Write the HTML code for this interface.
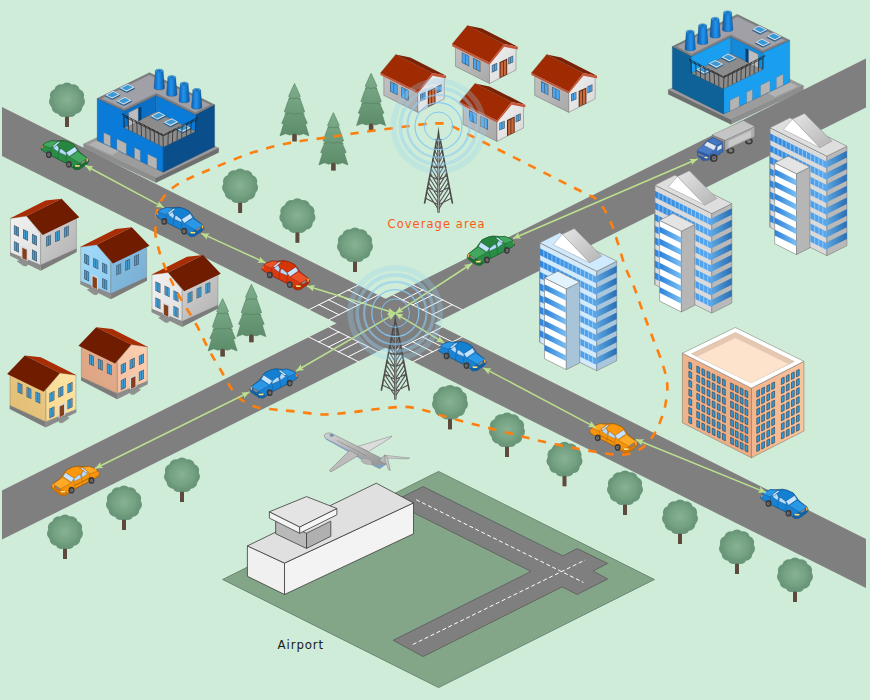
<!DOCTYPE html>
<html lang="en"><head><meta charset="utf-8"><title>Vehicular network</title>
<style>html,body{margin:0;padding:0;background:#ceecd7;}svg{display:block}</style></head>
<body><svg width="870" height="700" viewBox="0 0 870 700"><defs><linearGradient id="shL" x1="0" y1="0" x2="1" y2="1"><stop offset="0" stop-color="#c2c2c2"/><stop offset="1" stop-color="#a9a9a9"/></linearGradient><linearGradient id="shR" x1="0" y1="0" x2="1" y2="1"><stop offset="0" stop-color="#f2f2f2"/><stop offset="1" stop-color="#d6d6d6"/></linearGradient><g id="shouse"><polygon points="225,55 370,85 728,268 590,240" fill="#7a2208"/><polygon points="105,265 445,435 445,635 105,465" fill="url(#shL)" stroke="#5a5a5a" stroke-width="4" stroke-linejoin="round"/><polygon points="445,435 590,255 710,285 710,500 445,635" fill="url(#shR)" stroke="#5a5a5a" stroke-width="4" stroke-linejoin="round"/><polygon points="72,240 225,55 590,240 445,425" fill="#a02a02" stroke="#7a2208" stroke-width="3" stroke-linejoin="round"/><polygon points="72,240 445,425 445,447 72,262" fill="#c4583c"/><polygon points="445,425 590,240 728,268 728,294 592,268 445,447" fill="#c8553a"/><polygon points="168,322 242,359 242,464 168,427" fill="#4a5560"/><polygon points="174,331 202,345 202,438 174,424" fill="#4aa6f0"/><polygon points="208,348 236,362 236,455 208,441" fill="#4aa6f0"/><polygon points="280,378 354,415 354,520 280,483" fill="#4a5560"/><polygon points="286,387 314,401 314,494 286,480" fill="#4aa6f0"/><polygon points="320,404 348,418 348,511 320,497" fill="#4aa6f0"/><polygon points="468,452 522,427.7 522,502.7 468,527" fill="#4a5560"/><polygon points="474,455.3 492,447.2 492,510.2 474,518.3" fill="#4aa6f0"/><polygon points="498,444.5 516,436.4 516,499.4 498,507.5" fill="#4aa6f0"/><polygon points="632,377 682,354.5 682,422.5 632,445" fill="#4a5560"/><polygon points="638,380.3 654,373.1 654,429.1 638,436.3" fill="#4aa6f0"/><polygon points="660,370.4 676,363.2 676,419.2 660,426.4" fill="#4aa6f0"/><polygon points="545,422 622,385 622,545 545,582" fill="#5a2a10"/><polygon points="556,428 580,417 580,560 556,571" fill="#c8683e"/><polygon points="588,412 612,401 612,545 588,556" fill="#c8683e"/></g><radialGradient id="trg" cx="0.5" cy="0.5" r="0.55"><stop offset="0" stop-color="#88b294"/><stop offset="0.7" stop-color="#74a282"/><stop offset="1" stop-color="#6b9879"/></radialGradient><linearGradient id="png" x1="0" y1="0" x2="0" y2="1"><stop offset="0" stop-color="#7eae8c"/><stop offset="1" stop-color="#5c8c6a"/></linearGradient><g id="rtree"><rect x="-2" y="14" width="4" height="13" fill="#5e4a3c"/><circle cx="0.0" cy="-10.9" r="6.6" fill="#68957a"/><circle cx="6.2" cy="-9.2" r="6.6" fill="#68957a"/><circle cx="10.5" cy="-4.5" r="6.6" fill="#68957a"/><circle cx="11.4" cy="1.6" r="6.6" fill="#68957a"/><circle cx="8.7" cy="7.2" r="6.6" fill="#68957a"/><circle cx="3.2" cy="10.5" r="6.6" fill="#68957a"/><circle cx="-3.2" cy="10.5" r="6.6" fill="#68957a"/><circle cx="-8.7" cy="7.2" r="6.6" fill="#68957a"/><circle cx="-11.4" cy="1.6" r="6.6" fill="#68957a"/><circle cx="-10.5" cy="-4.5" r="6.6" fill="#68957a"/><circle cx="-6.2" cy="-9.2" r="6.6" fill="#68957a"/><ellipse cx="0" cy="0" rx="16.3" ry="15.6" fill="#6b9879"/><ellipse cx="0" cy="-0.5" rx="14" ry="13.5" fill="url(#trg)"/></g><g id="pine"><rect x="-2.3" y="49" width="4.6" height="9" fill="#5e4a3c"/><polygon points="0,0 2.6,5.5 5.9,13 4.8,13.6 7.5,20.5 10.2,28.4 8.2,29.2 12.8,39.8 10.9,40.6 14.5,52.3 9,50.2 4.5,51.6 0,50 -4.5,51.6 -9,50.2 -14.5,52.3 -10.9,40.6 -12.8,39.8 -8.2,29.2 -10.2,28.4 -7.5,20.5 -4.8,13.6 -5.9,13 -2.6,5.5" fill="url(#png)" stroke="#557f62" stroke-width="0.6" stroke-linejoin="round"/><path d="M-6,15.5 q3,-2 6,-0.3 q3,-1.7 6,0.3 M-10,31 q5,-2.6 10,-0.5 q5,-2.1 10,0.5" stroke="#5a8a68" stroke-width="1" fill="none"/></g><g id="ant"><path d="M-3.1,21.0L0,22.6L3.1,21.0M-4.8,29.5L0,31.9L4.8,29.5M-6.6,39.0L0,42.3L6.6,39.0M-8.6,49.5L0,53.8L8.6,49.5M-10.8,61.0L0,66.4L10.8,61.0M-12.9,72.0L0,78.5L12.9,72.0M-2.0,15.0L0,20.5L2.0,15.0M-2.9,19.6L0,26.2L2.9,19.6M-3.8,24.2L0,31.9L3.8,24.2M-4.6,28.8L0,37.6L4.6,28.8M-5.5,33.4L0,43.3L5.5,33.4M-6.4,38.0L0,49.0L6.4,38.0M-7.3,42.6L0,54.7L7.3,42.6M-8.2,47.2L0,60.4L8.2,47.2M-9.1,51.8L0,66.1L9.1,51.8M-9.9,56.4L0,71.8L9.9,56.4M-10.8,61.0L0,77.5L10.8,61.0M-11.7,65.6L0,83.2L11.7,65.6" stroke="#545454" stroke-width="1.12" fill="none" stroke-linejoin="round"/><path d="M-1.7,13.5L-14,77.5M1.7,13.5L14,77.5" stroke="#4a4a4a" stroke-width="1.6" fill="none"/><path d="M-3.2,13.3L3.2,13.3" stroke="#444" stroke-width="1.3" fill="none"/><polygon points="0,0 1.6,13.5 -1.6,13.5" fill="#4a4a4a"/><path d="M0,13.5L0,86.5" stroke="#505050" stroke-width="2.4" fill="none"/><path d="M0,12L0,86" stroke="#a4a4a4" stroke-width=".9" fill="none"/></g></defs><rect width="870" height="700" fill="#ceecd7"/><polygon points="2,107 866,539 866,588 2,156" fill="#7f7f7f"/><polygon points="2,490.6 866,58.6 866,107.6 2,539.6" fill="#7f7f7f"/><path d="M329.1,319.6L378.1,295.1M309.1,309.6L358.1,285.1M338.9,314.7L318.9,304.7M348.7,309.8L328.7,299.8M358.5,304.9L338.5,294.9M368.3,299.9L348.3,289.9M329.1,327.1L378.1,351.6M309.1,337.1L358.1,361.6M338.9,331.9L318.9,341.9M348.7,336.9L328.7,346.9M358.5,341.8L338.5,351.8M368.3,346.7L348.3,356.7M393.1,351.6L442.1,327.1M413.1,361.6L462.1,337.1M402.9,346.7L422.9,356.7M412.7,341.8L432.7,351.8M422.5,336.9L442.5,346.9M432.3,331.9L452.3,341.9M393.1,295.1L442.1,319.6M413.1,285.1L462.1,309.6M402.9,299.9L422.9,289.9M412.7,304.9L432.7,294.9M422.5,309.8L442.5,299.8M432.3,314.7L452.3,304.7" stroke="#ffffff" stroke-width="1" fill="none" stroke-linecap="square"/><polygon points="222.6,579.5 438.6,471.4 654.4,579.5 438.6,687.6" fill="#83a688" stroke="#5f7a64" stroke-width="0.8" stroke-linejoin="round"/><polygon points="423.1,486.6 562.8,555.9 577.2,548.6 607.6,563.4 593.1,571 607.6,579 577.2,594.5 562.1,586.9 423.1,656.6 393.1,640.3 531,571.4 392.2,502" fill="#7f7f7f" stroke="#5a5a5a" stroke-width="0.8" stroke-linejoin="round"/><path d="M416.2,499.7L583.4,582.4M412.8,644.5L585.2,560" stroke="#fff" stroke-width="1" stroke-dasharray="4 2.6" fill="none"/><polygon points="247.4,545.9 284.5,563.1 284.5,594.5 247.4,576.3" fill="#f0f0f0" stroke="#3c3c3c" stroke-width="0.8" stroke-linejoin="round"/><polygon points="284.5,563.1 413.5,502.9 413.5,533.8 284.5,594.5" fill="#f3f3f3" stroke="#3c3c3c" stroke-width="0.8" stroke-linejoin="round"/><polygon points="247.4,545.9 376.3,483.2 413.5,502.9 284.5,563.1" fill="#e0e0e0" stroke="#3c3c3c" stroke-width="0.8" stroke-linejoin="round"/><polygon points="275.683,519.362 306.53,533.268 306.53,548.439 275.683,533.774" fill="#b9b9b9" stroke="#3c3c3c" stroke-width="0.8" stroke-linejoin="round"/><polygon points="306.53,533.268 330.803,521.131 330.803,536.302 306.53,548.439" fill="#b0b0b0" stroke="#3c3c3c" stroke-width="0.8" stroke-linejoin="round"/><polygon points="269.362,511.776 299.703,526.947 299.703,533.268 269.362,518.097" fill="#f4f4f4" stroke="#3c3c3c" stroke-width="0.8" stroke-linejoin="round"/><polygon points="299.703,526.947 336.871,508.489 336.871,514.81 299.703,533.268" fill="#f6f6f6" stroke="#3c3c3c" stroke-width="0.8" stroke-linejoin="round"/><polygon points="269.362,511.776 306.53,496.606 336.871,508.489 299.703,526.947" fill="#e4e4e4" stroke="#3c3c3c" stroke-width="0.8" stroke-linejoin="round"/><g transform="translate(791.9,1.73) scale(-0.149477,0.149477)"><polygon points="-76.266,561.96 408.09,789.42 408.09,819.42 -76.266,591.96" fill="#8e8e8e" stroke="#6a6a6a" stroke-width="2" stroke-linejoin="round"/><polygon points="408.09,789.42 826.884,588.72 826.884,618.72 408.09,819.42" fill="#6e6e6e" stroke="#5a5a5a" stroke-width="2" stroke-linejoin="round"/><polygon points="-76.266,561.96 342.528,361.26 826.884,588.72 408.09,789.42" fill="#9c9c9c" stroke="#6a6a6a" stroke-width="2" stroke-linejoin="round"/><polygon points="-46.83,565.305 33.45,528.51 180.63,602.1 113.73,638.895" fill="#b2b2b2" stroke="#8a8a8a" stroke-width="1.5" stroke-linejoin="round"/><polygon points="15,258 195,340 195,452 457,582 457,751 15,539" fill="#1a9ff0" stroke="#0a3a6a" stroke-width="2" stroke-linejoin="round"/><polygon points="457,582 672,477 672,365 800,300 800,581 457,751" fill="#0e6298" stroke="#0a3a6a" stroke-width="2" stroke-linejoin="round"/><polygon points="195,452 410,347 672,477 457,582" fill="#8c8c8c" stroke="#5a5a5a" stroke-width="2" stroke-linejoin="round"/><polygon points="195,340 410,235 410,347 195,452" fill="#168ada" stroke="#0a3a6a" stroke-width="2" stroke-linejoin="round"/><polygon points="410,235 672,365 672,477 410,347" fill="#1a9ff0" stroke="#0a3a6a" stroke-width="2" stroke-linejoin="round"/><polygon points="225,352 290,320 290,412 225,444" fill="#bdbdbd" stroke="#555" stroke-width="2" stroke-linejoin="round"/><polygon points="292,320 310,312 310,400 292,410" fill="#063d70"/><polygon points="15,258 365,85 800,300 672,365 410,235 195,340" fill="#808084" stroke="#4a4a4a" stroke-width="2.5" stroke-linejoin="round"/><polygon points="45,258 365,100 770,300 672,350 410,220 195,325" fill="#a0a0a6"/><polygon points="58,484.208 104,506.748 104,579.748 58,557.208" fill="#b4b4b4" stroke="#3a5a7a" stroke-width="1.5" stroke-linejoin="round"/><polygon points="146,527.609 210,558.969 210,631.969 146,600.609" fill="#b4b4b4" stroke="#3a5a7a" stroke-width="1.5" stroke-linejoin="round"/><polygon points="264,585.807 303,604.917 303,677.917 264,658.807" fill="#b4b4b4" stroke="#3a5a7a" stroke-width="1.5" stroke-linejoin="round"/><polygon points="352,629.208 414,659.588 414,732.588 352,702.208" fill="#b4b4b4" stroke="#3a5a7a" stroke-width="1.5" stroke-linejoin="round"/><polygon points="165,187 212,211 212,221 165,197" fill="#2a6a9e"/><polygon points="212,211 265,184 265,194 212,221" fill="#1e5a8a"/><polygon points="165,187 220,159 265,184 212,211" fill="#e8eef4" stroke="#6a7a8a" stroke-width="1.5" stroke-linejoin="round"/><polygon points="177,187 220,166 253,183 211,204" fill="#3a9ad8"/><polygon points="68,234 115,258 115,268 68,244" fill="#2a6a9e"/><polygon points="115,258 168,231 168,241 115,268" fill="#1e5a8a"/><polygon points="68,234 123,206 168,231 115,258" fill="#e8eef4" stroke="#6a7a8a" stroke-width="1.5" stroke-linejoin="round"/><polygon points="80,234 123,213 156,230 114,251" fill="#3a9ad8"/><polygon points="145,274 192,298 192,308 145,284" fill="#2a6a9e"/><polygon points="192,298 245,271 245,281 192,308" fill="#1e5a8a"/><polygon points="145,274 200,246 245,271 192,298" fill="#e8eef4" stroke="#6a7a8a" stroke-width="1.5" stroke-linejoin="round"/><polygon points="157,274 200,253 233,270 191,291" fill="#3a9ad8"/><polygon points="540,457 587,481 587,491 540,467" fill="#2a6a9e"/><polygon points="587,481 640,454 640,464 587,491" fill="#1e5a8a"/><polygon points="540,457 595,429 640,454 587,481" fill="#e8eef4" stroke="#6a7a8a" stroke-width="1.5" stroke-linejoin="round"/><polygon points="552,457 595,436 628,453 586,474" fill="#3a9ad8"/><polygon points="372,374 419,398 419,408 372,384" fill="#2a6a9e"/><polygon points="419,398 472,371 472,381 419,408" fill="#1e5a8a"/><polygon points="372,374 427,346 472,371 419,398" fill="#e8eef4" stroke="#6a7a8a" stroke-width="1.5" stroke-linejoin="round"/><polygon points="384,374 427,353 460,370 418,391" fill="#3a9ad8"/><polygon points="458,417 505,441 505,451 458,427" fill="#2a6a9e"/><polygon points="505,441 558,414 558,424 505,451" fill="#1e5a8a"/><polygon points="458,417 513,389 558,414 505,441" fill="#e8eef4" stroke="#6a7a8a" stroke-width="1.5" stroke-linejoin="round"/><polygon points="470,417 513,396 546,413 504,434" fill="#3a9ad8"/><linearGradient id="chf2" x1="0" y1="0" x2="1" y2="0"><stop offset="0" stop-color="#0b64b4"/><stop offset="0.45" stop-color="#2294ee"/><stop offset="1" stop-color="#0a58a2"/></linearGradient><path d="M404.0,72 L395.0,186 A35,14 0 0 0 465.0,186 L456.0,72 Z" fill="url(#chf2)" stroke="#0a3a6a" stroke-width="2"/><ellipse cx="430.0" cy="72" rx="26" ry="11.5" fill="#3ea4ee" stroke="#0a4a8a" stroke-width="2"/><ellipse cx="430.0" cy="73" rx="16" ry="6" fill="#1a6ab0"/><path d="M487.5,115 L478.5,229 A35,14 0 0 0 548.5,229 L539.5,115 Z" fill="url(#chf2)" stroke="#0a3a6a" stroke-width="2"/><ellipse cx="513.5" cy="115" rx="26" ry="11.5" fill="#3ea4ee" stroke="#0a4a8a" stroke-width="2"/><ellipse cx="513.5" cy="116" rx="16" ry="6" fill="#1a6ab0"/><path d="M571.0,158 L562.0,272 A35,14 0 0 0 632.0,272 L623.0,158 Z" fill="url(#chf2)" stroke="#0a3a6a" stroke-width="2"/><ellipse cx="597.0" cy="158" rx="26" ry="11.5" fill="#3ea4ee" stroke="#0a4a8a" stroke-width="2"/><ellipse cx="597.0" cy="159" rx="16" ry="6" fill="#1a6ab0"/><path d="M654.5,201 L645.5,315 A35,14 0 0 0 715.5,315 L706.5,201 Z" fill="url(#chf2)" stroke="#0a3a6a" stroke-width="2"/><ellipse cx="680.5" cy="201" rx="26" ry="11.5" fill="#3ea4ee" stroke="#0a4a8a" stroke-width="2"/><ellipse cx="680.5" cy="202" rx="16" ry="6" fill="#1a6ab0"/><path d="M195,452L193,378L181,360M224,466L222,392L210,374M253,481L251,407L239,389M282,495L280,421L268,403M311,510L309,436L297,418M341,524L339,450L327,432M370,539L368,465L356,447M399,553L397,479L385,461M428,568L426,494L414,476M457,582L455,508L443,490M488,567L490,493L502,475M518,552L520,478L532,460M549,537L551,463L563,445M580,522L582,448L594,430M611,507L613,433L625,415M641,492L643,418L655,400M672,477L674,403L686,385M193,378L457,508L674,403M181,360L457,502L686,385" stroke="#151515" stroke-width="4.2" fill="none"/></g><g transform="translate(95,60) scale(0.149477,0.149477)"><polygon points="-76.266,561.96 408.09,789.42 408.09,819.42 -76.266,591.96" fill="#8e8e8e" stroke="#6a6a6a" stroke-width="2" stroke-linejoin="round"/><polygon points="408.09,789.42 826.884,588.72 826.884,618.72 408.09,819.42" fill="#6e6e6e" stroke="#5a5a5a" stroke-width="2" stroke-linejoin="round"/><polygon points="-76.266,561.96 342.528,361.26 826.884,588.72 408.09,789.42" fill="#9c9c9c" stroke="#6a6a6a" stroke-width="2" stroke-linejoin="round"/><polygon points="-46.83,565.305 33.45,528.51 180.63,602.1 113.73,638.895" fill="#b2b2b2" stroke="#8a8a8a" stroke-width="1.5" stroke-linejoin="round"/><polygon points="15,258 195,340 195,452 457,582 457,751 15,539" fill="#0a7bd8" stroke="#0a3a6a" stroke-width="2" stroke-linejoin="round"/><polygon points="457,582 672,477 672,365 800,300 800,581 457,751" fill="#0a4f8c" stroke="#0a3a6a" stroke-width="2" stroke-linejoin="round"/><polygon points="195,452 410,347 672,477 457,582" fill="#8c8c8c" stroke="#5a5a5a" stroke-width="2" stroke-linejoin="round"/><polygon points="195,340 410,235 410,347 195,452" fill="#0a6fc6" stroke="#0a3a6a" stroke-width="2" stroke-linejoin="round"/><polygon points="410,235 672,365 672,477 410,347" fill="#0a7bd8" stroke="#0a3a6a" stroke-width="2" stroke-linejoin="round"/><polygon points="225,352 290,320 290,412 225,444" fill="#bdbdbd" stroke="#555" stroke-width="2" stroke-linejoin="round"/><polygon points="292,320 310,312 310,400 292,410" fill="#063d70"/><polygon points="15,258 365,85 800,300 672,365 410,235 195,340" fill="#808084" stroke="#4a4a4a" stroke-width="2.5" stroke-linejoin="round"/><polygon points="45,258 365,100 770,300 672,350 410,220 195,325" fill="#a0a0a6"/><polygon points="58,484.208 104,506.748 104,579.748 58,557.208" fill="#b4b4b4" stroke="#3a5a7a" stroke-width="1.5" stroke-linejoin="round"/><polygon points="146,527.609 210,558.969 210,631.969 146,600.609" fill="#b4b4b4" stroke="#3a5a7a" stroke-width="1.5" stroke-linejoin="round"/><polygon points="264,585.807 303,604.917 303,677.917 264,658.807" fill="#b4b4b4" stroke="#3a5a7a" stroke-width="1.5" stroke-linejoin="round"/><polygon points="352,629.208 414,659.588 414,732.588 352,702.208" fill="#b4b4b4" stroke="#3a5a7a" stroke-width="1.5" stroke-linejoin="round"/><polygon points="165,187 212,211 212,221 165,197" fill="#2a6a9e"/><polygon points="212,211 265,184 265,194 212,221" fill="#1e5a8a"/><polygon points="165,187 220,159 265,184 212,211" fill="#e8eef4" stroke="#6a7a8a" stroke-width="1.5" stroke-linejoin="round"/><polygon points="177,187 220,166 253,183 211,204" fill="#3a9ad8"/><polygon points="68,234 115,258 115,268 68,244" fill="#2a6a9e"/><polygon points="115,258 168,231 168,241 115,268" fill="#1e5a8a"/><polygon points="68,234 123,206 168,231 115,258" fill="#e8eef4" stroke="#6a7a8a" stroke-width="1.5" stroke-linejoin="round"/><polygon points="80,234 123,213 156,230 114,251" fill="#3a9ad8"/><polygon points="145,274 192,298 192,308 145,284" fill="#2a6a9e"/><polygon points="192,298 245,271 245,281 192,308" fill="#1e5a8a"/><polygon points="145,274 200,246 245,271 192,298" fill="#e8eef4" stroke="#6a7a8a" stroke-width="1.5" stroke-linejoin="round"/><polygon points="157,274 200,253 233,270 191,291" fill="#3a9ad8"/><polygon points="540,457 587,481 587,491 540,467" fill="#2a6a9e"/><polygon points="587,481 640,454 640,464 587,491" fill="#1e5a8a"/><polygon points="540,457 595,429 640,454 587,481" fill="#e8eef4" stroke="#6a7a8a" stroke-width="1.5" stroke-linejoin="round"/><polygon points="552,457 595,436 628,453 586,474" fill="#3a9ad8"/><polygon points="372,374 419,398 419,408 372,384" fill="#2a6a9e"/><polygon points="419,398 472,371 472,381 419,408" fill="#1e5a8a"/><polygon points="372,374 427,346 472,371 419,398" fill="#e8eef4" stroke="#6a7a8a" stroke-width="1.5" stroke-linejoin="round"/><polygon points="384,374 427,353 460,370 418,391" fill="#3a9ad8"/><polygon points="458,417 505,441 505,451 458,427" fill="#2a6a9e"/><polygon points="505,441 558,414 558,424 505,451" fill="#1e5a8a"/><polygon points="458,417 513,389 558,414 505,441" fill="#e8eef4" stroke="#6a7a8a" stroke-width="1.5" stroke-linejoin="round"/><polygon points="470,417 513,396 546,413 504,434" fill="#3a9ad8"/><linearGradient id="chf1" x1="0" y1="0" x2="1" y2="0"><stop offset="0" stop-color="#0b64b4"/><stop offset="0.45" stop-color="#2294ee"/><stop offset="1" stop-color="#0a58a2"/></linearGradient><path d="M404.0,72 L395.0,186 A35,14 0 0 0 465.0,186 L456.0,72 Z" fill="url(#chf1)" stroke="#0a3a6a" stroke-width="2"/><ellipse cx="430.0" cy="72" rx="26" ry="11.5" fill="#3ea4ee" stroke="#0a4a8a" stroke-width="2"/><ellipse cx="430.0" cy="73" rx="16" ry="6" fill="#1a6ab0"/><path d="M487.5,115 L478.5,229 A35,14 0 0 0 548.5,229 L539.5,115 Z" fill="url(#chf1)" stroke="#0a3a6a" stroke-width="2"/><ellipse cx="513.5" cy="115" rx="26" ry="11.5" fill="#3ea4ee" stroke="#0a4a8a" stroke-width="2"/><ellipse cx="513.5" cy="116" rx="16" ry="6" fill="#1a6ab0"/><path d="M571.0,158 L562.0,272 A35,14 0 0 0 632.0,272 L623.0,158 Z" fill="url(#chf1)" stroke="#0a3a6a" stroke-width="2"/><ellipse cx="597.0" cy="158" rx="26" ry="11.5" fill="#3ea4ee" stroke="#0a4a8a" stroke-width="2"/><ellipse cx="597.0" cy="159" rx="16" ry="6" fill="#1a6ab0"/><path d="M654.5,201 L645.5,315 A35,14 0 0 0 715.5,315 L706.5,201 Z" fill="url(#chf1)" stroke="#0a3a6a" stroke-width="2"/><ellipse cx="680.5" cy="201" rx="26" ry="11.5" fill="#3ea4ee" stroke="#0a4a8a" stroke-width="2"/><ellipse cx="680.5" cy="202" rx="16" ry="6" fill="#1a6ab0"/><path d="M195,452L193,378L181,360M224,466L222,392L210,374M253,481L251,407L239,389M282,495L280,421L268,403M311,510L309,436L297,418M341,524L339,450L327,432M370,539L368,465L356,447M399,553L397,479L385,461M428,568L426,494L414,476M457,582L455,508L443,490M488,567L490,493L502,475M518,552L520,478L532,460M549,537L551,463L563,445M580,522L582,448L594,430M611,507L613,433L625,415M641,492L643,418L655,400M672,477L674,403L686,385M193,378L457,508L674,403M181,360L457,502L686,385" stroke="#151515" stroke-width="4.2" fill="none"/></g><use href="#shouse" transform="translate(445,20) scale(0.1)"/><use href="#shouse" transform="translate(373.3,48.9) scale(0.1)"/><use href="#shouse" transform="translate(524.2,48.9) scale(0.1)"/><use href="#shouse" transform="translate(452.5,77.9) scale(0.1)"/><g transform="translate(5,194.971) scale(0.114286,0.114286)"><linearGradient id="gh1a" x1="0" y1="0" x2="1" y2="1"><stop offset="0" stop-color="#f2f2f2"/><stop offset="1" stop-color="#dedede"/></linearGradient><linearGradient id="gh1b" x1="0" y1="0" x2="1" y2="1"><stop offset="0" stop-color="#d2d2d2"/><stop offset="1" stop-color="#b2b2b2"/></linearGradient><polygon points="44,500 312,612 312,662 44,532" fill="#8c8c8c"/><polygon points="312,612 628,468 628,500 312,662" fill="#7c7c7c"/><polygon points="48,205 188,186 312,335 312,612 48,505" fill="url(#gh1a)" stroke="#666" stroke-width="3" stroke-linejoin="round"/><polygon points="312,340 625,200 625,470 312,612" fill="url(#gh1b)" stroke="#666" stroke-width="3" stroke-linejoin="round"/><polygon points="42,205 355,48 495,32 188,185" fill="#a82c04"/><polygon points="188,185 495,32 650,195 330,350" fill="#701c00"/><polygon points="78,262 122,284 122,366 78,344" fill="#4a5560"/><polygon points="83,269.5 97.5,276.75 97.5,348.75 83,341.5" fill="#3f9ed6"/><polygon points="102.5,279.25 117,286.5 117,358.5 102.5,351.25" fill="#3f9ed6"/><polygon points="158,298 202,320 202,402 158,380" fill="#4a5560"/><polygon points="163,305.5 177.5,312.75 177.5,384.75 163,377.5" fill="#3f9ed6"/><polygon points="182.5,315.25 197,322.5 197,394.5 182.5,387.25" fill="#3f9ed6"/><polygon points="236,340 280,362 280,444 236,422" fill="#4a5560"/><polygon points="241,347.5 255.5,354.75 255.5,426.75 241,419.5" fill="#3f9ed6"/><polygon points="260.5,357.25 275,364.5 275,436.5 260.5,429.25" fill="#3f9ed6"/><polygon points="78,402 122,424 122,506 78,484" fill="#4a5560"/><polygon points="83,409.5 97.5,416.75 97.5,488.75 83,481.5" fill="#3f9ed6"/><polygon points="102.5,419.25 117,426.5 117,498.5 102.5,491.25" fill="#3f9ed6"/><polygon points="236,476 280,498 280,584 236,562" fill="#4a5560"/><polygon points="241,483.5 255.5,490.75 255.5,566.75 241,559.5" fill="#3f9ed6"/><polygon points="260.5,493.25 275,500.5 275,576.5 260.5,569.25" fill="#3f9ed6"/><polygon points="360,366 402,347.1 402,435.1 360,454" fill="#4a5560"/><polygon points="365,368.75 378.5,362.675 378.5,440.675 365,446.75" fill="#3f9ed6"/><polygon points="383.5,360.425 397,354.35 397,432.35 383.5,438.425" fill="#3f9ed6"/><polygon points="438,326 480,307.1 480,395.1 438,414" fill="#4a5560"/><polygon points="443,328.75 456.5,322.675 456.5,400.675 443,406.75" fill="#3f9ed6"/><polygon points="461.5,320.425 475,314.35 475,392.35 461.5,398.425" fill="#3f9ed6"/><polygon points="516,286 558,267.1 558,355.1 516,374" fill="#4a5560"/><polygon points="521,288.75 534.5,282.675 534.5,360.675 521,366.75" fill="#3f9ed6"/><polygon points="539.5,280.425 553,274.35 553,352.35 539.5,358.425" fill="#3f9ed6"/><polygon points="143,445 200,470 200,580 143,555" fill="#d8d8d8"/><polygon points="152,462 190,479 190,572 152,554" fill="#84401e"/><polygon points="105,580 150,562 212,590 190,622 165,622" fill="#909090" stroke="#6a6a6a" stroke-width="2" stroke-linejoin="round"/></g><g transform="translate(75.2,223.571) scale(0.114286,0.114286)"><linearGradient id="gh2a" x1="0" y1="0" x2="1" y2="1"><stop offset="0" stop-color="#a2dafa"/><stop offset="1" stop-color="#90ccf0"/></linearGradient><linearGradient id="gh2b" x1="0" y1="0" x2="1" y2="1"><stop offset="0" stop-color="#86bde0"/><stop offset="1" stop-color="#78aed2"/></linearGradient><polygon points="44,500 312,612 312,662 44,532" fill="#8c8c8c"/><polygon points="312,612 628,468 628,500 312,662" fill="#7c7c7c"/><polygon points="48,205 188,186 312,335 312,612 48,505" fill="url(#gh2a)" stroke="#666" stroke-width="3" stroke-linejoin="round"/><polygon points="312,340 625,200 625,470 312,612" fill="url(#gh2b)" stroke="#666" stroke-width="3" stroke-linejoin="round"/><polygon points="42,205 355,48 495,32 188,185" fill="#a82c04"/><polygon points="188,185 495,32 650,195 330,350" fill="#701c00"/><polygon points="78,262 122,284 122,366 78,344" fill="#4a5560"/><polygon points="83,269.5 97.5,276.75 97.5,348.75 83,341.5" fill="#3f9ed6"/><polygon points="102.5,279.25 117,286.5 117,358.5 102.5,351.25" fill="#3f9ed6"/><polygon points="158,298 202,320 202,402 158,380" fill="#4a5560"/><polygon points="163,305.5 177.5,312.75 177.5,384.75 163,377.5" fill="#3f9ed6"/><polygon points="182.5,315.25 197,322.5 197,394.5 182.5,387.25" fill="#3f9ed6"/><polygon points="236,340 280,362 280,444 236,422" fill="#4a5560"/><polygon points="241,347.5 255.5,354.75 255.5,426.75 241,419.5" fill="#3f9ed6"/><polygon points="260.5,357.25 275,364.5 275,436.5 260.5,429.25" fill="#3f9ed6"/><polygon points="78,402 122,424 122,506 78,484" fill="#4a5560"/><polygon points="83,409.5 97.5,416.75 97.5,488.75 83,481.5" fill="#3f9ed6"/><polygon points="102.5,419.25 117,426.5 117,498.5 102.5,491.25" fill="#3f9ed6"/><polygon points="236,476 280,498 280,584 236,562" fill="#4a5560"/><polygon points="241,483.5 255.5,490.75 255.5,566.75 241,559.5" fill="#3f9ed6"/><polygon points="260.5,493.25 275,500.5 275,576.5 260.5,569.25" fill="#3f9ed6"/><polygon points="360,366 402,347.1 402,435.1 360,454" fill="#4a5560"/><polygon points="365,368.75 378.5,362.675 378.5,440.675 365,446.75" fill="#3f9ed6"/><polygon points="383.5,360.425 397,354.35 397,432.35 383.5,438.425" fill="#3f9ed6"/><polygon points="438,326 480,307.1 480,395.1 438,414" fill="#4a5560"/><polygon points="443,328.75 456.5,322.675 456.5,400.675 443,406.75" fill="#3f9ed6"/><polygon points="461.5,320.425 475,314.35 475,392.35 461.5,398.425" fill="#3f9ed6"/><polygon points="516,286 558,267.1 558,355.1 516,374" fill="#4a5560"/><polygon points="521,288.75 534.5,282.675 534.5,360.675 521,366.75" fill="#3f9ed6"/><polygon points="539.5,280.425 553,274.35 553,352.35 539.5,358.425" fill="#3f9ed6"/><polygon points="143,445 200,470 200,580 143,555" fill="#d8d8d8"/><polygon points="152,462 190,479 190,572 152,554" fill="#84401e"/><polygon points="105,580 150,562 212,590 190,622 165,622" fill="#909090" stroke="#6a6a6a" stroke-width="2" stroke-linejoin="round"/></g><g transform="translate(146.5,251.371) scale(0.114286,0.114286)"><linearGradient id="gh3a" x1="0" y1="0" x2="1" y2="1"><stop offset="0" stop-color="#f2f2f2"/><stop offset="1" stop-color="#dedede"/></linearGradient><linearGradient id="gh3b" x1="0" y1="0" x2="1" y2="1"><stop offset="0" stop-color="#d2d2d2"/><stop offset="1" stop-color="#b2b2b2"/></linearGradient><polygon points="44,500 312,612 312,662 44,532" fill="#8c8c8c"/><polygon points="312,612 628,468 628,500 312,662" fill="#7c7c7c"/><polygon points="48,205 188,186 312,335 312,612 48,505" fill="url(#gh3a)" stroke="#666" stroke-width="3" stroke-linejoin="round"/><polygon points="312,340 625,200 625,470 312,612" fill="url(#gh3b)" stroke="#666" stroke-width="3" stroke-linejoin="round"/><polygon points="42,205 355,48 495,32 188,185" fill="#a82c04"/><polygon points="188,185 495,32 650,195 330,350" fill="#701c00"/><polygon points="78,262 122,284 122,366 78,344" fill="#4a5560"/><polygon points="83,269.5 97.5,276.75 97.5,348.75 83,341.5" fill="#3f9ed6"/><polygon points="102.5,279.25 117,286.5 117,358.5 102.5,351.25" fill="#3f9ed6"/><polygon points="158,298 202,320 202,402 158,380" fill="#4a5560"/><polygon points="163,305.5 177.5,312.75 177.5,384.75 163,377.5" fill="#3f9ed6"/><polygon points="182.5,315.25 197,322.5 197,394.5 182.5,387.25" fill="#3f9ed6"/><polygon points="236,340 280,362 280,444 236,422" fill="#4a5560"/><polygon points="241,347.5 255.5,354.75 255.5,426.75 241,419.5" fill="#3f9ed6"/><polygon points="260.5,357.25 275,364.5 275,436.5 260.5,429.25" fill="#3f9ed6"/><polygon points="78,402 122,424 122,506 78,484" fill="#4a5560"/><polygon points="83,409.5 97.5,416.75 97.5,488.75 83,481.5" fill="#3f9ed6"/><polygon points="102.5,419.25 117,426.5 117,498.5 102.5,491.25" fill="#3f9ed6"/><polygon points="236,476 280,498 280,584 236,562" fill="#4a5560"/><polygon points="241,483.5 255.5,490.75 255.5,566.75 241,559.5" fill="#3f9ed6"/><polygon points="260.5,493.25 275,500.5 275,576.5 260.5,569.25" fill="#3f9ed6"/><polygon points="360,366 402,347.1 402,435.1 360,454" fill="#4a5560"/><polygon points="365,368.75 378.5,362.675 378.5,440.675 365,446.75" fill="#3f9ed6"/><polygon points="383.5,360.425 397,354.35 397,432.35 383.5,438.425" fill="#3f9ed6"/><polygon points="438,326 480,307.1 480,395.1 438,414" fill="#4a5560"/><polygon points="443,328.75 456.5,322.675 456.5,400.675 443,406.75" fill="#3f9ed6"/><polygon points="461.5,320.425 475,314.35 475,392.35 461.5,398.425" fill="#3f9ed6"/><polygon points="516,286 558,267.1 558,355.1 516,374" fill="#4a5560"/><polygon points="521,288.75 534.5,282.675 534.5,360.675 521,366.75" fill="#3f9ed6"/><polygon points="539.5,280.425 553,274.35 553,352.35 539.5,358.425" fill="#3f9ed6"/><polygon points="143,445 200,470 200,580 143,555" fill="#d8d8d8"/><polygon points="152,462 190,479 190,572 152,554" fill="#84401e"/><polygon points="105,580 150,562 212,590 190,622 165,622" fill="#909090" stroke="#6a6a6a" stroke-width="2" stroke-linejoin="round"/></g><g transform="translate(152.8,323.471) scale(-0.114286,0.114286)"><linearGradient id="gh4a" x1="0" y1="0" x2="1" y2="1"><stop offset="0" stop-color="#fbd0b2"/><stop offset="1" stop-color="#f4c0a0"/></linearGradient><linearGradient id="gh4b" x1="0" y1="0" x2="1" y2="1"><stop offset="0" stop-color="#e6ae8e"/><stop offset="1" stop-color="#dca382"/></linearGradient><polygon points="44,500 312,612 312,662 44,532" fill="#8c8c8c"/><polygon points="312,612 628,468 628,500 312,662" fill="#7c7c7c"/><polygon points="48,205 188,186 312,335 312,612 48,505" fill="url(#gh4a)" stroke="#666" stroke-width="3" stroke-linejoin="round"/><polygon points="312,340 625,200 625,470 312,612" fill="url(#gh4b)" stroke="#666" stroke-width="3" stroke-linejoin="round"/><polygon points="42,205 355,48 495,32 188,185" fill="#a82c04"/><polygon points="188,185 495,32 650,195 330,350" fill="#701c00"/><polygon points="78,262 122,284 122,366 78,344" fill="#4a5560"/><polygon points="83,269.5 97.5,276.75 97.5,348.75 83,341.5" fill="#3f9ed6"/><polygon points="102.5,279.25 117,286.5 117,358.5 102.5,351.25" fill="#3f9ed6"/><polygon points="158,298 202,320 202,402 158,380" fill="#4a5560"/><polygon points="163,305.5 177.5,312.75 177.5,384.75 163,377.5" fill="#3f9ed6"/><polygon points="182.5,315.25 197,322.5 197,394.5 182.5,387.25" fill="#3f9ed6"/><polygon points="236,340 280,362 280,444 236,422" fill="#4a5560"/><polygon points="241,347.5 255.5,354.75 255.5,426.75 241,419.5" fill="#3f9ed6"/><polygon points="260.5,357.25 275,364.5 275,436.5 260.5,429.25" fill="#3f9ed6"/><polygon points="78,402 122,424 122,506 78,484" fill="#4a5560"/><polygon points="83,409.5 97.5,416.75 97.5,488.75 83,481.5" fill="#3f9ed6"/><polygon points="102.5,419.25 117,426.5 117,498.5 102.5,491.25" fill="#3f9ed6"/><polygon points="236,476 280,498 280,584 236,562" fill="#4a5560"/><polygon points="241,483.5 255.5,490.75 255.5,566.75 241,559.5" fill="#3f9ed6"/><polygon points="260.5,493.25 275,500.5 275,576.5 260.5,569.25" fill="#3f9ed6"/><polygon points="360,366 402,347.1 402,435.1 360,454" fill="#4a5560"/><polygon points="365,368.75 378.5,362.675 378.5,440.675 365,446.75" fill="#3f9ed6"/><polygon points="383.5,360.425 397,354.35 397,432.35 383.5,438.425" fill="#3f9ed6"/><polygon points="438,326 480,307.1 480,395.1 438,414" fill="#4a5560"/><polygon points="443,328.75 456.5,322.675 456.5,400.675 443,406.75" fill="#3f9ed6"/><polygon points="461.5,320.425 475,314.35 475,392.35 461.5,398.425" fill="#3f9ed6"/><polygon points="516,286 558,267.1 558,355.1 516,374" fill="#4a5560"/><polygon points="521,288.75 534.5,282.675 534.5,360.675 521,366.75" fill="#3f9ed6"/><polygon points="539.5,280.425 553,274.35 553,352.35 539.5,358.425" fill="#3f9ed6"/><polygon points="143,445 200,470 200,580 143,555" fill="#d8d8d8"/><polygon points="152,462 190,479 190,572 152,554" fill="#84401e"/><polygon points="105,580 150,562 212,590 190,622 165,622" fill="#909090" stroke="#6a6a6a" stroke-width="2" stroke-linejoin="round"/></g><g transform="translate(81.4,351.771) scale(-0.114286,0.114286)"><linearGradient id="gh5a" x1="0" y1="0" x2="1" y2="1"><stop offset="0" stop-color="#fde4a6"/><stop offset="1" stop-color="#f6d890"/></linearGradient><linearGradient id="gh5b" x1="0" y1="0" x2="1" y2="1"><stop offset="0" stop-color="#ecca84"/><stop offset="1" stop-color="#e0bc74"/></linearGradient><polygon points="44,500 312,612 312,662 44,532" fill="#8c8c8c"/><polygon points="312,612 628,468 628,500 312,662" fill="#7c7c7c"/><polygon points="48,205 188,186 312,335 312,612 48,505" fill="url(#gh5a)" stroke="#666" stroke-width="3" stroke-linejoin="round"/><polygon points="312,340 625,200 625,470 312,612" fill="url(#gh5b)" stroke="#666" stroke-width="3" stroke-linejoin="round"/><polygon points="42,205 355,48 495,32 188,185" fill="#a82c04"/><polygon points="188,185 495,32 650,195 330,350" fill="#701c00"/><polygon points="78,262 122,284 122,366 78,344" fill="#4a5560"/><polygon points="83,269.5 97.5,276.75 97.5,348.75 83,341.5" fill="#3f9ed6"/><polygon points="102.5,279.25 117,286.5 117,358.5 102.5,351.25" fill="#3f9ed6"/><polygon points="158,298 202,320 202,402 158,380" fill="#4a5560"/><polygon points="163,305.5 177.5,312.75 177.5,384.75 163,377.5" fill="#3f9ed6"/><polygon points="182.5,315.25 197,322.5 197,394.5 182.5,387.25" fill="#3f9ed6"/><polygon points="236,340 280,362 280,444 236,422" fill="#4a5560"/><polygon points="241,347.5 255.5,354.75 255.5,426.75 241,419.5" fill="#3f9ed6"/><polygon points="260.5,357.25 275,364.5 275,436.5 260.5,429.25" fill="#3f9ed6"/><polygon points="78,402 122,424 122,506 78,484" fill="#4a5560"/><polygon points="83,409.5 97.5,416.75 97.5,488.75 83,481.5" fill="#3f9ed6"/><polygon points="102.5,419.25 117,426.5 117,498.5 102.5,491.25" fill="#3f9ed6"/><polygon points="236,476 280,498 280,584 236,562" fill="#4a5560"/><polygon points="241,483.5 255.5,490.75 255.5,566.75 241,559.5" fill="#3f9ed6"/><polygon points="260.5,493.25 275,500.5 275,576.5 260.5,569.25" fill="#3f9ed6"/><polygon points="360,366 402,347.1 402,435.1 360,454" fill="#4a5560"/><polygon points="365,368.75 378.5,362.675 378.5,440.675 365,446.75" fill="#3f9ed6"/><polygon points="383.5,360.425 397,354.35 397,432.35 383.5,438.425" fill="#3f9ed6"/><polygon points="438,326 480,307.1 480,395.1 438,414" fill="#4a5560"/><polygon points="443,328.75 456.5,322.675 456.5,400.675 443,406.75" fill="#3f9ed6"/><polygon points="461.5,320.425 475,314.35 475,392.35 461.5,398.425" fill="#3f9ed6"/><polygon points="516,286 558,267.1 558,355.1 516,374" fill="#4a5560"/><polygon points="521,288.75 534.5,282.675 534.5,360.675 521,366.75" fill="#3f9ed6"/><polygon points="539.5,280.425 553,274.35 553,352.35 539.5,358.425" fill="#3f9ed6"/><polygon points="143,445 200,470 200,580 143,555" fill="#d8d8d8"/><polygon points="152,462 190,479 190,572 152,554" fill="#84401e"/><polygon points="105,580 150,562 212,590 190,622 165,622" fill="#909090" stroke="#6a6a6a" stroke-width="2" stroke-linejoin="round"/></g><use href="#rtree" x="67" y="100"/><use href="#rtree" x="240.1" y="186"/><use href="#rtree" x="297.4" y="215.8"/><use href="#rtree" x="355" y="245"/><use href="#rtree" x="450" y="402.4"/><use href="#rtree" x="507" y="430"/><use href="#rtree" x="564.5" y="459.3"/><use href="#rtree" x="625" y="488"/><use href="#rtree" x="680" y="517"/><use href="#rtree" x="737" y="547"/><use href="#rtree" x="795" y="575"/><use href="#rtree" x="182" y="475"/><use href="#rtree" x="124" y="503"/><use href="#rtree" x="65" y="532"/><use href="#pine" x="371.1" y="73.3"/><use href="#pine" x="294.5" y="83.5"/><use href="#pine" x="333.4" y="112.6"/><use href="#pine" x="251.4" y="284.3"/><use href="#pine" x="222.6" y="298.6"/><g transform="translate(769.9,127.7) scale(1,1)"><linearGradient id="sls3" x1="0" y1="0" x2="1" y2="0"><stop offset="0" stop-color="#2f86dc"/><stop offset="1" stop-color="#58a8f0"/></linearGradient><linearGradient id="srs3" x1="0" y1="0" x2="1" y2="0"><stop offset="0" stop-color="#5aa4e0"/><stop offset="1" stop-color="#2a6fb4"/></linearGradient><linearGradient id="sas3" x1="0" y1="0" x2="1" y2="0"><stop offset="0" stop-color="#2c82d8"/><stop offset="1" stop-color="#7cc0f4"/></linearGradient><linearGradient id="sws3" x1="0" y1="0" x2="1" y2="1"><stop offset="0" stop-color="#e6e6e6"/><stop offset="1" stop-color="#b4b4b4"/></linearGradient><polygon points="0,0 57,28.5 57,128 0,99.5" fill="#dadada" stroke="#7c7c7c" stroke-width="0.6" stroke-linejoin="round"/><polygon points="57,28.5 77,18.5 77,118 57,128" fill="#b9b9b9" stroke="#7c7c7c" stroke-width="0.6" stroke-linejoin="round"/><polygon points="0,5.6 57,34.1 57,40.7 0,12.2" fill="url(#sls3)"/><path d="M4.1,7.6v6.6M8.1,9.7v6.6M12.2,11.7v6.6M16.3,13.7v6.6M20.4,15.8v6.6M24.4,17.8v6.6M28.5,19.9v6.6M32.6,21.9v6.6M36.6,23.9v6.6M40.7,26.0v6.6M44.8,28.0v6.6M48.9,30.0v6.6M52.9,32.1v6.6" stroke="#a8d6fa" stroke-width=".7" fill="none"/><polygon points="57,33.1 77,23.1 77,29.7 57,39.7" fill="url(#srs3)"/><polygon points="0,17.25 57,45.75 57,52.35 0,23.85" fill="url(#sls3)"/><path d="M4.1,19.3v6.6M8.1,21.3v6.6M12.2,23.4v6.6M16.3,25.4v6.6M20.4,27.4v6.6M24.4,29.5v6.6M28.5,31.5v6.6M32.6,33.5v6.6M36.6,35.6v6.6M40.7,37.6v6.6M44.8,39.6v6.6M48.9,41.7v6.6M52.9,43.7v6.6" stroke="#a8d6fa" stroke-width=".7" fill="none"/><polygon points="57,44.75 77,34.75 77,41.35 57,51.35" fill="url(#srs3)"/><polygon points="0,28.9 57,57.4 57,64 0,35.5" fill="url(#sls3)"/><path d="M4.1,30.9v6.6M8.1,33.0v6.6M12.2,35.0v6.6M16.3,37.0v6.6M20.4,39.1v6.6M24.4,41.1v6.6M28.5,43.1v6.6M32.6,45.2v6.6M36.6,47.2v6.6M40.7,49.3v6.6M44.8,51.3v6.6M48.9,53.3v6.6M52.9,55.4v6.6" stroke="#a8d6fa" stroke-width=".7" fill="none"/><polygon points="57,56.4 77,46.4 77,53 57,63" fill="url(#srs3)"/><polygon points="0,40.55 57,69.05 57,75.65 0,47.15" fill="url(#sls3)"/><path d="M4.1,42.6v6.6M8.1,44.6v6.6M12.2,46.7v6.6M16.3,48.7v6.6M20.4,50.7v6.6M24.4,52.8v6.6M28.5,54.8v6.6M32.6,56.8v6.6M36.6,58.9v6.6M40.7,60.9v6.6M44.8,62.9v6.6M48.9,65.0v6.6M52.9,67.0v6.6" stroke="#a8d6fa" stroke-width=".7" fill="none"/><polygon points="57,68.05 77,58.05 77,64.65 57,74.65" fill="url(#srs3)"/><polygon points="0,52.2 57,80.7 57,87.3 0,58.8" fill="url(#sls3)"/><path d="M4.1,54.2v6.6M8.1,56.3v6.6M12.2,58.3v6.6M16.3,60.3v6.6M20.4,62.4v6.6M24.4,64.4v6.6M28.5,66.5v6.6M32.6,68.5v6.6M36.6,70.5v6.6M40.7,72.6v6.6M44.8,74.6v6.6M48.9,76.6v6.6M52.9,78.7v6.6" stroke="#a8d6fa" stroke-width=".7" fill="none"/><polygon points="57,79.7 77,69.7 77,76.3 57,86.3" fill="url(#srs3)"/><polygon points="0,63.85 57,92.35 57,98.95 0,70.45" fill="url(#sls3)"/><path d="M4.1,65.9v6.6M8.1,67.9v6.6M12.2,70.0v6.6M16.3,72.0v6.6M20.4,74.0v6.6M24.4,76.1v6.6M28.5,78.1v6.6M32.6,80.1v6.6M36.6,82.2v6.6M40.7,84.2v6.6M44.8,86.2v6.6M48.9,88.3v6.6M52.9,90.3v6.6" stroke="#a8d6fa" stroke-width=".7" fill="none"/><polygon points="57,91.35 77,81.35 77,87.95 57,97.95" fill="url(#srs3)"/><polygon points="0,75.5 57,104 57,110.6 0,82.1" fill="url(#sls3)"/><path d="M4.1,77.5v6.6M8.1,79.6v6.6M12.2,81.6v6.6M16.3,83.6v6.6M20.4,85.7v6.6M24.4,87.7v6.6M28.5,89.8v6.6M32.6,91.8v6.6M36.6,93.8v6.6M40.7,95.9v6.6M44.8,97.9v6.6M48.9,99.9v6.6M52.9,102.0v6.6" stroke="#a8d6fa" stroke-width=".7" fill="none"/><polygon points="57,103 77,93 77,99.6 57,109.6" fill="url(#srs3)"/><polygon points="0,87.15 57,115.65 57,122.25 0,93.75" fill="url(#sls3)"/><path d="M4.1,89.2v6.6M8.1,91.2v6.6M12.2,93.3v6.6M16.3,95.3v6.6M20.4,97.3v6.6M24.4,99.4v6.6M28.5,101.4v6.6M32.6,103.4v6.6M36.6,105.5v6.6M40.7,107.5v6.6M44.8,109.5v6.6M48.9,111.6v6.6M52.9,113.6v6.6" stroke="#a8d6fa" stroke-width=".7" fill="none"/><polygon points="57,114.65 77,104.65 77,111.25 57,121.25" fill="url(#srs3)"/><polygon points="0,0 20,-10 77,18.5 57,28.5" fill="#dedede" stroke="#7c7c7c" stroke-width="0.6" stroke-linejoin="round"/><polygon points="22.6,-8.6 34.6,-14.3 62,13.4 50,20" fill="url(#sws3)" stroke="#8a8a8a" stroke-width="0.5" stroke-linejoin="round"/><polygon points="13.5,1.9 22.6,-8.6 50,20" fill="#ffffff" stroke="#9a9a9a" stroke-width="0.5" stroke-linejoin="round"/><polyline points="0,0 0,99.5" fill="none" stroke="#7c7c7c" stroke-width="0.6"/><polygon points="4.8,35.2 26.6,46.1 26.6,126.9 4.8,116" fill="#ffffff" stroke="#7c7c7c" stroke-width="0.6" stroke-linejoin="round"/><polygon points="26.6,46.1 40,39.4 40,120.2 26.6,126.9" fill="#b6b6b6" stroke="#7c7c7c" stroke-width="0.6" stroke-linejoin="round"/><polygon points="4.8,41.4 26.6,52.3 26.6,58.1 4.8,47.2" fill="url(#sas3)"/><polygon points="4.8,53.5 26.6,64.4 26.6,70.2 4.8,59.3" fill="url(#sas3)"/><polygon points="4.8,65.6 26.6,76.5 26.6,82.3 4.8,71.4" fill="url(#sas3)"/><polygon points="4.8,77.7 26.6,88.6 26.6,94.4 4.8,83.5" fill="url(#sas3)"/><polygon points="4.8,89.8 26.6,100.7 26.6,106.5 4.8,95.6" fill="url(#sas3)"/><polygon points="4.8,101.9 26.6,112.8 26.6,118.6 4.8,107.7" fill="url(#sas3)"/><polygon points="4.8,35.2 18.2,28.5 40,39.4 26.6,46.1" fill="#e4e4e4" stroke="#7c7c7c" stroke-width="0.6" stroke-linejoin="round"/></g><g transform="translate(654.8,185.1) scale(1,1)"><linearGradient id="sls2" x1="0" y1="0" x2="1" y2="0"><stop offset="0" stop-color="#2f86dc"/><stop offset="1" stop-color="#58a8f0"/></linearGradient><linearGradient id="srs2" x1="0" y1="0" x2="1" y2="0"><stop offset="0" stop-color="#5aa4e0"/><stop offset="1" stop-color="#2a6fb4"/></linearGradient><linearGradient id="sas2" x1="0" y1="0" x2="1" y2="0"><stop offset="0" stop-color="#2c82d8"/><stop offset="1" stop-color="#7cc0f4"/></linearGradient><linearGradient id="sws2" x1="0" y1="0" x2="1" y2="1"><stop offset="0" stop-color="#e6e6e6"/><stop offset="1" stop-color="#b4b4b4"/></linearGradient><polygon points="0,0 57,28.5 57,128 0,99.5" fill="#dadada" stroke="#7c7c7c" stroke-width="0.6" stroke-linejoin="round"/><polygon points="57,28.5 77,18.5 77,118 57,128" fill="#b9b9b9" stroke="#7c7c7c" stroke-width="0.6" stroke-linejoin="round"/><polygon points="0,5.6 57,34.1 57,40.7 0,12.2" fill="url(#sls2)"/><path d="M4.1,7.6v6.6M8.1,9.7v6.6M12.2,11.7v6.6M16.3,13.7v6.6M20.4,15.8v6.6M24.4,17.8v6.6M28.5,19.9v6.6M32.6,21.9v6.6M36.6,23.9v6.6M40.7,26.0v6.6M44.8,28.0v6.6M48.9,30.0v6.6M52.9,32.1v6.6" stroke="#a8d6fa" stroke-width=".7" fill="none"/><polygon points="57,33.1 77,23.1 77,29.7 57,39.7" fill="url(#srs2)"/><polygon points="0,17.25 57,45.75 57,52.35 0,23.85" fill="url(#sls2)"/><path d="M4.1,19.3v6.6M8.1,21.3v6.6M12.2,23.4v6.6M16.3,25.4v6.6M20.4,27.4v6.6M24.4,29.5v6.6M28.5,31.5v6.6M32.6,33.5v6.6M36.6,35.6v6.6M40.7,37.6v6.6M44.8,39.6v6.6M48.9,41.7v6.6M52.9,43.7v6.6" stroke="#a8d6fa" stroke-width=".7" fill="none"/><polygon points="57,44.75 77,34.75 77,41.35 57,51.35" fill="url(#srs2)"/><polygon points="0,28.9 57,57.4 57,64 0,35.5" fill="url(#sls2)"/><path d="M4.1,30.9v6.6M8.1,33.0v6.6M12.2,35.0v6.6M16.3,37.0v6.6M20.4,39.1v6.6M24.4,41.1v6.6M28.5,43.1v6.6M32.6,45.2v6.6M36.6,47.2v6.6M40.7,49.3v6.6M44.8,51.3v6.6M48.9,53.3v6.6M52.9,55.4v6.6" stroke="#a8d6fa" stroke-width=".7" fill="none"/><polygon points="57,56.4 77,46.4 77,53 57,63" fill="url(#srs2)"/><polygon points="0,40.55 57,69.05 57,75.65 0,47.15" fill="url(#sls2)"/><path d="M4.1,42.6v6.6M8.1,44.6v6.6M12.2,46.7v6.6M16.3,48.7v6.6M20.4,50.7v6.6M24.4,52.8v6.6M28.5,54.8v6.6M32.6,56.8v6.6M36.6,58.9v6.6M40.7,60.9v6.6M44.8,62.9v6.6M48.9,65.0v6.6M52.9,67.0v6.6" stroke="#a8d6fa" stroke-width=".7" fill="none"/><polygon points="57,68.05 77,58.05 77,64.65 57,74.65" fill="url(#srs2)"/><polygon points="0,52.2 57,80.7 57,87.3 0,58.8" fill="url(#sls2)"/><path d="M4.1,54.2v6.6M8.1,56.3v6.6M12.2,58.3v6.6M16.3,60.3v6.6M20.4,62.4v6.6M24.4,64.4v6.6M28.5,66.5v6.6M32.6,68.5v6.6M36.6,70.5v6.6M40.7,72.6v6.6M44.8,74.6v6.6M48.9,76.6v6.6M52.9,78.7v6.6" stroke="#a8d6fa" stroke-width=".7" fill="none"/><polygon points="57,79.7 77,69.7 77,76.3 57,86.3" fill="url(#srs2)"/><polygon points="0,63.85 57,92.35 57,98.95 0,70.45" fill="url(#sls2)"/><path d="M4.1,65.9v6.6M8.1,67.9v6.6M12.2,70.0v6.6M16.3,72.0v6.6M20.4,74.0v6.6M24.4,76.1v6.6M28.5,78.1v6.6M32.6,80.1v6.6M36.6,82.2v6.6M40.7,84.2v6.6M44.8,86.2v6.6M48.9,88.3v6.6M52.9,90.3v6.6" stroke="#a8d6fa" stroke-width=".7" fill="none"/><polygon points="57,91.35 77,81.35 77,87.95 57,97.95" fill="url(#srs2)"/><polygon points="0,75.5 57,104 57,110.6 0,82.1" fill="url(#sls2)"/><path d="M4.1,77.5v6.6M8.1,79.6v6.6M12.2,81.6v6.6M16.3,83.6v6.6M20.4,85.7v6.6M24.4,87.7v6.6M28.5,89.8v6.6M32.6,91.8v6.6M36.6,93.8v6.6M40.7,95.9v6.6M44.8,97.9v6.6M48.9,99.9v6.6M52.9,102.0v6.6" stroke="#a8d6fa" stroke-width=".7" fill="none"/><polygon points="57,103 77,93 77,99.6 57,109.6" fill="url(#srs2)"/><polygon points="0,87.15 57,115.65 57,122.25 0,93.75" fill="url(#sls2)"/><path d="M4.1,89.2v6.6M8.1,91.2v6.6M12.2,93.3v6.6M16.3,95.3v6.6M20.4,97.3v6.6M24.4,99.4v6.6M28.5,101.4v6.6M32.6,103.4v6.6M36.6,105.5v6.6M40.7,107.5v6.6M44.8,109.5v6.6M48.9,111.6v6.6M52.9,113.6v6.6" stroke="#a8d6fa" stroke-width=".7" fill="none"/><polygon points="57,114.65 77,104.65 77,111.25 57,121.25" fill="url(#srs2)"/><polygon points="0,0 20,-10 77,18.5 57,28.5" fill="#dedede" stroke="#7c7c7c" stroke-width="0.6" stroke-linejoin="round"/><polygon points="22.6,-8.6 34.6,-14.3 62,13.4 50,20" fill="url(#sws2)" stroke="#8a8a8a" stroke-width="0.5" stroke-linejoin="round"/><polygon points="13.5,1.9 22.6,-8.6 50,20" fill="#ffffff" stroke="#9a9a9a" stroke-width="0.5" stroke-linejoin="round"/><polyline points="0,0 0,99.5" fill="none" stroke="#7c7c7c" stroke-width="0.6"/><polygon points="4.8,35.2 26.6,46.1 26.6,126.9 4.8,116" fill="#ffffff" stroke="#7c7c7c" stroke-width="0.6" stroke-linejoin="round"/><polygon points="26.6,46.1 40,39.4 40,120.2 26.6,126.9" fill="#b6b6b6" stroke="#7c7c7c" stroke-width="0.6" stroke-linejoin="round"/><polygon points="4.8,41.4 26.6,52.3 26.6,58.1 4.8,47.2" fill="url(#sas2)"/><polygon points="4.8,53.5 26.6,64.4 26.6,70.2 4.8,59.3" fill="url(#sas2)"/><polygon points="4.8,65.6 26.6,76.5 26.6,82.3 4.8,71.4" fill="url(#sas2)"/><polygon points="4.8,77.7 26.6,88.6 26.6,94.4 4.8,83.5" fill="url(#sas2)"/><polygon points="4.8,89.8 26.6,100.7 26.6,106.5 4.8,95.6" fill="url(#sas2)"/><polygon points="4.8,101.9 26.6,112.8 26.6,118.6 4.8,107.7" fill="url(#sas2)"/><polygon points="4.8,35.2 18.2,28.5 40,39.4 26.6,46.1" fill="#e4e4e4" stroke="#7c7c7c" stroke-width="0.6" stroke-linejoin="round"/></g><g transform="translate(539.7,242.75) scale(1,1)"><linearGradient id="sls1" x1="0" y1="0" x2="1" y2="0"><stop offset="0" stop-color="#2f86dc"/><stop offset="1" stop-color="#58a8f0"/></linearGradient><linearGradient id="srs1" x1="0" y1="0" x2="1" y2="0"><stop offset="0" stop-color="#5aa4e0"/><stop offset="1" stop-color="#2a6fb4"/></linearGradient><linearGradient id="sas1" x1="0" y1="0" x2="1" y2="0"><stop offset="0" stop-color="#2c82d8"/><stop offset="1" stop-color="#7cc0f4"/></linearGradient><linearGradient id="sws1" x1="0" y1="0" x2="1" y2="1"><stop offset="0" stop-color="#e6e6e6"/><stop offset="1" stop-color="#b4b4b4"/></linearGradient><polygon points="0,0 57,28.5 57,128 0,99.5" fill="#d2eafc" stroke="#7c7c7c" stroke-width="0.6" stroke-linejoin="round"/><polygon points="57,28.5 77,18.5 77,118 57,128" fill="#a9c7dc" stroke="#7c7c7c" stroke-width="0.6" stroke-linejoin="round"/><polygon points="0,5.6 57,34.1 57,40.7 0,12.2" fill="url(#sls1)"/><path d="M4.1,7.6v6.6M8.1,9.7v6.6M12.2,11.7v6.6M16.3,13.7v6.6M20.4,15.8v6.6M24.4,17.8v6.6M28.5,19.9v6.6M32.6,21.9v6.6M36.6,23.9v6.6M40.7,26.0v6.6M44.8,28.0v6.6M48.9,30.0v6.6M52.9,32.1v6.6" stroke="#a8d6fa" stroke-width=".7" fill="none"/><polygon points="57,33.1 77,23.1 77,29.7 57,39.7" fill="url(#srs1)"/><polygon points="0,17.25 57,45.75 57,52.35 0,23.85" fill="url(#sls1)"/><path d="M4.1,19.3v6.6M8.1,21.3v6.6M12.2,23.4v6.6M16.3,25.4v6.6M20.4,27.4v6.6M24.4,29.5v6.6M28.5,31.5v6.6M32.6,33.5v6.6M36.6,35.6v6.6M40.7,37.6v6.6M44.8,39.6v6.6M48.9,41.7v6.6M52.9,43.7v6.6" stroke="#a8d6fa" stroke-width=".7" fill="none"/><polygon points="57,44.75 77,34.75 77,41.35 57,51.35" fill="url(#srs1)"/><polygon points="0,28.9 57,57.4 57,64 0,35.5" fill="url(#sls1)"/><path d="M4.1,30.9v6.6M8.1,33.0v6.6M12.2,35.0v6.6M16.3,37.0v6.6M20.4,39.1v6.6M24.4,41.1v6.6M28.5,43.1v6.6M32.6,45.2v6.6M36.6,47.2v6.6M40.7,49.3v6.6M44.8,51.3v6.6M48.9,53.3v6.6M52.9,55.4v6.6" stroke="#a8d6fa" stroke-width=".7" fill="none"/><polygon points="57,56.4 77,46.4 77,53 57,63" fill="url(#srs1)"/><polygon points="0,40.55 57,69.05 57,75.65 0,47.15" fill="url(#sls1)"/><path d="M4.1,42.6v6.6M8.1,44.6v6.6M12.2,46.7v6.6M16.3,48.7v6.6M20.4,50.7v6.6M24.4,52.8v6.6M28.5,54.8v6.6M32.6,56.8v6.6M36.6,58.9v6.6M40.7,60.9v6.6M44.8,62.9v6.6M48.9,65.0v6.6M52.9,67.0v6.6" stroke="#a8d6fa" stroke-width=".7" fill="none"/><polygon points="57,68.05 77,58.05 77,64.65 57,74.65" fill="url(#srs1)"/><polygon points="0,52.2 57,80.7 57,87.3 0,58.8" fill="url(#sls1)"/><path d="M4.1,54.2v6.6M8.1,56.3v6.6M12.2,58.3v6.6M16.3,60.3v6.6M20.4,62.4v6.6M24.4,64.4v6.6M28.5,66.5v6.6M32.6,68.5v6.6M36.6,70.5v6.6M40.7,72.6v6.6M44.8,74.6v6.6M48.9,76.6v6.6M52.9,78.7v6.6" stroke="#a8d6fa" stroke-width=".7" fill="none"/><polygon points="57,79.7 77,69.7 77,76.3 57,86.3" fill="url(#srs1)"/><polygon points="0,63.85 57,92.35 57,98.95 0,70.45" fill="url(#sls1)"/><path d="M4.1,65.9v6.6M8.1,67.9v6.6M12.2,70.0v6.6M16.3,72.0v6.6M20.4,74.0v6.6M24.4,76.1v6.6M28.5,78.1v6.6M32.6,80.1v6.6M36.6,82.2v6.6M40.7,84.2v6.6M44.8,86.2v6.6M48.9,88.3v6.6M52.9,90.3v6.6" stroke="#a8d6fa" stroke-width=".7" fill="none"/><polygon points="57,91.35 77,81.35 77,87.95 57,97.95" fill="url(#srs1)"/><polygon points="0,75.5 57,104 57,110.6 0,82.1" fill="url(#sls1)"/><path d="M4.1,77.5v6.6M8.1,79.6v6.6M12.2,81.6v6.6M16.3,83.6v6.6M20.4,85.7v6.6M24.4,87.7v6.6M28.5,89.8v6.6M32.6,91.8v6.6M36.6,93.8v6.6M40.7,95.9v6.6M44.8,97.9v6.6M48.9,99.9v6.6M52.9,102.0v6.6" stroke="#a8d6fa" stroke-width=".7" fill="none"/><polygon points="57,103 77,93 77,99.6 57,109.6" fill="url(#srs1)"/><polygon points="0,87.15 57,115.65 57,122.25 0,93.75" fill="url(#sls1)"/><path d="M4.1,89.2v6.6M8.1,91.2v6.6M12.2,93.3v6.6M16.3,95.3v6.6M20.4,97.3v6.6M24.4,99.4v6.6M28.5,101.4v6.6M32.6,103.4v6.6M36.6,105.5v6.6M40.7,107.5v6.6M44.8,109.5v6.6M48.9,111.6v6.6M52.9,113.6v6.6" stroke="#a8d6fa" stroke-width=".7" fill="none"/><polygon points="57,114.65 77,104.65 77,111.25 57,121.25" fill="url(#srs1)"/><polygon points="0,0 20,-10 77,18.5 57,28.5" fill="#cfeafe" stroke="#7c7c7c" stroke-width="0.6" stroke-linejoin="round"/><polygon points="22.6,-8.6 34.6,-14.3 62,13.4 50,20" fill="url(#sws1)" stroke="#8a8a8a" stroke-width="0.5" stroke-linejoin="round"/><polygon points="13.5,1.9 22.6,-8.6 50,20" fill="#ffffff" stroke="#9a9a9a" stroke-width="0.5" stroke-linejoin="round"/><polyline points="0,0 0,99.5" fill="none" stroke="#7c7c7c" stroke-width="0.6"/><polygon points="4.8,35.2 26.6,46.1 26.6,126.9 4.8,116" fill="#ffffff" stroke="#7c7c7c" stroke-width="0.6" stroke-linejoin="round"/><polygon points="26.6,46.1 40,39.4 40,120.2 26.6,126.9" fill="#a8c4d9" stroke="#7c7c7c" stroke-width="0.6" stroke-linejoin="round"/><polygon points="4.8,41.4 26.6,52.3 26.6,58.1 4.8,47.2" fill="url(#sas1)"/><polygon points="4.8,53.5 26.6,64.4 26.6,70.2 4.8,59.3" fill="url(#sas1)"/><polygon points="4.8,65.6 26.6,76.5 26.6,82.3 4.8,71.4" fill="url(#sas1)"/><polygon points="4.8,77.7 26.6,88.6 26.6,94.4 4.8,83.5" fill="url(#sas1)"/><polygon points="4.8,89.8 26.6,100.7 26.6,106.5 4.8,95.6" fill="url(#sas1)"/><polygon points="4.8,101.9 26.6,112.8 26.6,118.6 4.8,107.7" fill="url(#sas1)"/><polygon points="4.8,35.2 18.2,28.5 40,39.4 26.6,46.1" fill="#e2f3fd" stroke="#7c7c7c" stroke-width="0.6" stroke-linejoin="round"/></g><g transform="translate(670,320) scale(0.21427,0.21427)"><linearGradient id="ofl" x1="0" y1="0" x2="1" y2="0"><stop offset="0" stop-color="#f0b48c"/><stop offset="1" stop-color="#ecac84"/></linearGradient><linearGradient id="ofr" x1="0" y1="0" x2="1" y2="0"><stop offset="0" stop-color="#f2b68e"/><stop offset="1" stop-color="#f8c49e"/></linearGradient><polygon points="58,155 380,318 380,643 58,480" fill="url(#ofl)" stroke="#6a5a50" stroke-width="2" stroke-linejoin="round"/><polygon points="380,318 625,193 625,518 380,643" fill="url(#ofr)" stroke="#6a5a50" stroke-width="2" stroke-linejoin="round"/><polygon points="58,155 305,35 625,193 380,318" fill="#ffffff" stroke="#6a5a50" stroke-width="2" stroke-linejoin="round"/><polygon points="100,158 305,58 580,194 378,294" fill="#e6c8b2" stroke="#b09a8a" stroke-width="1.5" stroke-linejoin="round"/><polygon points="128,170 305,84 552,205 378,294" fill="#fde2cc"/><polygon points="88,196 101,202.5 101,231.5 88,225" fill="#2e9ad6" stroke="#344252" stroke-width="3" stroke-linejoin="round"/><polygon points="88,238.3 101,244.8 101,273.8 88,267.3" fill="#2e9ad6" stroke="#344252" stroke-width="3" stroke-linejoin="round"/><polygon points="88,280.6 101,287.1 101,316.1 88,309.6" fill="#2e9ad6" stroke="#344252" stroke-width="3" stroke-linejoin="round"/><polygon points="88,322.9 101,329.4 101,358.4 88,351.9" fill="#2e9ad6" stroke="#344252" stroke-width="3" stroke-linejoin="round"/><polygon points="88,365.2 101,371.7 101,400.7 88,394.2" fill="#2e9ad6" stroke="#344252" stroke-width="3" stroke-linejoin="round"/><polygon points="88,407.5 101,414 101,443 88,436.5" fill="#2e9ad6" stroke="#344252" stroke-width="3" stroke-linejoin="round"/><polygon points="88,449.8 101,456.3 101,485.3 88,478.8" fill="#2e9ad6" stroke="#344252" stroke-width="3" stroke-linejoin="round"/><polygon points="125,214.5 138,221 138,250 125,243.5" fill="#2e9ad6" stroke="#344252" stroke-width="3" stroke-linejoin="round"/><polygon points="125,256.8 138,263.3 138,292.3 125,285.8" fill="#2e9ad6" stroke="#344252" stroke-width="3" stroke-linejoin="round"/><polygon points="125,299.1 138,305.6 138,334.6 125,328.1" fill="#2e9ad6" stroke="#344252" stroke-width="3" stroke-linejoin="round"/><polygon points="125,341.4 138,347.9 138,376.9 125,370.4" fill="#2e9ad6" stroke="#344252" stroke-width="3" stroke-linejoin="round"/><polygon points="125,383.7 138,390.2 138,419.2 125,412.7" fill="#2e9ad6" stroke="#344252" stroke-width="3" stroke-linejoin="round"/><polygon points="125,426 138,432.5 138,461.5 125,455" fill="#2e9ad6" stroke="#344252" stroke-width="3" stroke-linejoin="round"/><polygon points="125,468.3 138,474.8 138,503.8 125,497.3" fill="#2e9ad6" stroke="#344252" stroke-width="3" stroke-linejoin="round"/><polygon points="149,226.5 162,233 162,262 149,255.5" fill="#2e9ad6" stroke="#344252" stroke-width="3" stroke-linejoin="round"/><polygon points="149,268.8 162,275.3 162,304.3 149,297.8" fill="#2e9ad6" stroke="#344252" stroke-width="3" stroke-linejoin="round"/><polygon points="149,311.1 162,317.6 162,346.6 149,340.1" fill="#2e9ad6" stroke="#344252" stroke-width="3" stroke-linejoin="round"/><polygon points="149,353.4 162,359.9 162,388.9 149,382.4" fill="#2e9ad6" stroke="#344252" stroke-width="3" stroke-linejoin="round"/><polygon points="149,395.7 162,402.2 162,431.2 149,424.7" fill="#2e9ad6" stroke="#344252" stroke-width="3" stroke-linejoin="round"/><polygon points="149,438 162,444.5 162,473.5 149,467" fill="#2e9ad6" stroke="#344252" stroke-width="3" stroke-linejoin="round"/><polygon points="149,480.3 162,486.8 162,515.8 149,509.3" fill="#2e9ad6" stroke="#344252" stroke-width="3" stroke-linejoin="round"/><polygon points="173,238.5 186,245 186,274 173,267.5" fill="#2e9ad6" stroke="#344252" stroke-width="3" stroke-linejoin="round"/><polygon points="173,280.8 186,287.3 186,316.3 173,309.8" fill="#2e9ad6" stroke="#344252" stroke-width="3" stroke-linejoin="round"/><polygon points="173,323.1 186,329.6 186,358.6 173,352.1" fill="#2e9ad6" stroke="#344252" stroke-width="3" stroke-linejoin="round"/><polygon points="173,365.4 186,371.9 186,400.9 173,394.4" fill="#2e9ad6" stroke="#344252" stroke-width="3" stroke-linejoin="round"/><polygon points="173,407.7 186,414.2 186,443.2 173,436.7" fill="#2e9ad6" stroke="#344252" stroke-width="3" stroke-linejoin="round"/><polygon points="173,450 186,456.5 186,485.5 173,479" fill="#2e9ad6" stroke="#344252" stroke-width="3" stroke-linejoin="round"/><polygon points="173,492.3 186,498.8 186,527.8 173,521.3" fill="#2e9ad6" stroke="#344252" stroke-width="3" stroke-linejoin="round"/><polygon points="197,250.5 210,257 210,286 197,279.5" fill="#2e9ad6" stroke="#344252" stroke-width="3" stroke-linejoin="round"/><polygon points="197,292.8 210,299.3 210,328.3 197,321.8" fill="#2e9ad6" stroke="#344252" stroke-width="3" stroke-linejoin="round"/><polygon points="197,335.1 210,341.6 210,370.6 197,364.1" fill="#2e9ad6" stroke="#344252" stroke-width="3" stroke-linejoin="round"/><polygon points="197,377.4 210,383.9 210,412.9 197,406.4" fill="#2e9ad6" stroke="#344252" stroke-width="3" stroke-linejoin="round"/><polygon points="197,419.7 210,426.2 210,455.2 197,448.7" fill="#2e9ad6" stroke="#344252" stroke-width="3" stroke-linejoin="round"/><polygon points="197,462 210,468.5 210,497.5 197,491" fill="#2e9ad6" stroke="#344252" stroke-width="3" stroke-linejoin="round"/><polygon points="197,504.3 210,510.8 210,539.8 197,533.3" fill="#2e9ad6" stroke="#344252" stroke-width="3" stroke-linejoin="round"/><polygon points="221,262.5 234,269 234,298 221,291.5" fill="#2e9ad6" stroke="#344252" stroke-width="3" stroke-linejoin="round"/><polygon points="221,304.8 234,311.3 234,340.3 221,333.8" fill="#2e9ad6" stroke="#344252" stroke-width="3" stroke-linejoin="round"/><polygon points="221,347.1 234,353.6 234,382.6 221,376.1" fill="#2e9ad6" stroke="#344252" stroke-width="3" stroke-linejoin="round"/><polygon points="221,389.4 234,395.9 234,424.9 221,418.4" fill="#2e9ad6" stroke="#344252" stroke-width="3" stroke-linejoin="round"/><polygon points="221,431.7 234,438.2 234,467.2 221,460.7" fill="#2e9ad6" stroke="#344252" stroke-width="3" stroke-linejoin="round"/><polygon points="221,474 234,480.5 234,509.5 221,503" fill="#2e9ad6" stroke="#344252" stroke-width="3" stroke-linejoin="round"/><polygon points="221,516.3 234,522.8 234,551.8 221,545.3" fill="#2e9ad6" stroke="#344252" stroke-width="3" stroke-linejoin="round"/><polygon points="245,274.5 258,281 258,310 245,303.5" fill="#2e9ad6" stroke="#344252" stroke-width="3" stroke-linejoin="round"/><polygon points="245,316.8 258,323.3 258,352.3 245,345.8" fill="#2e9ad6" stroke="#344252" stroke-width="3" stroke-linejoin="round"/><polygon points="245,359.1 258,365.6 258,394.6 245,388.1" fill="#2e9ad6" stroke="#344252" stroke-width="3" stroke-linejoin="round"/><polygon points="245,401.4 258,407.9 258,436.9 245,430.4" fill="#2e9ad6" stroke="#344252" stroke-width="3" stroke-linejoin="round"/><polygon points="245,443.7 258,450.2 258,479.2 245,472.7" fill="#2e9ad6" stroke="#344252" stroke-width="3" stroke-linejoin="round"/><polygon points="245,486 258,492.5 258,521.5 245,515" fill="#2e9ad6" stroke="#344252" stroke-width="3" stroke-linejoin="round"/><polygon points="245,528.3 258,534.8 258,563.8 245,557.3" fill="#2e9ad6" stroke="#344252" stroke-width="3" stroke-linejoin="round"/><polygon points="283,293.5 296,300 296,329 283,322.5" fill="#2e9ad6" stroke="#344252" stroke-width="3" stroke-linejoin="round"/><polygon points="283,335.8 296,342.3 296,371.3 283,364.8" fill="#2e9ad6" stroke="#344252" stroke-width="3" stroke-linejoin="round"/><polygon points="283,378.1 296,384.6 296,413.6 283,407.1" fill="#2e9ad6" stroke="#344252" stroke-width="3" stroke-linejoin="round"/><polygon points="283,420.4 296,426.9 296,455.9 283,449.4" fill="#2e9ad6" stroke="#344252" stroke-width="3" stroke-linejoin="round"/><polygon points="283,462.7 296,469.2 296,498.2 283,491.7" fill="#2e9ad6" stroke="#344252" stroke-width="3" stroke-linejoin="round"/><polygon points="283,505 296,511.5 296,540.5 283,534" fill="#2e9ad6" stroke="#344252" stroke-width="3" stroke-linejoin="round"/><polygon points="283,547.3 296,553.8 296,582.8 283,576.3" fill="#2e9ad6" stroke="#344252" stroke-width="3" stroke-linejoin="round"/><polygon points="305,304.5 318,311 318,340 305,333.5" fill="#2e9ad6" stroke="#344252" stroke-width="3" stroke-linejoin="round"/><polygon points="305,346.8 318,353.3 318,382.3 305,375.8" fill="#2e9ad6" stroke="#344252" stroke-width="3" stroke-linejoin="round"/><polygon points="305,389.1 318,395.6 318,424.6 305,418.1" fill="#2e9ad6" stroke="#344252" stroke-width="3" stroke-linejoin="round"/><polygon points="305,431.4 318,437.9 318,466.9 305,460.4" fill="#2e9ad6" stroke="#344252" stroke-width="3" stroke-linejoin="round"/><polygon points="305,473.7 318,480.2 318,509.2 305,502.7" fill="#2e9ad6" stroke="#344252" stroke-width="3" stroke-linejoin="round"/><polygon points="305,516 318,522.5 318,551.5 305,545" fill="#2e9ad6" stroke="#344252" stroke-width="3" stroke-linejoin="round"/><polygon points="305,558.3 318,564.8 318,593.8 305,587.3" fill="#2e9ad6" stroke="#344252" stroke-width="3" stroke-linejoin="round"/><polygon points="328,316 341,322.5 341,351.5 328,345" fill="#2e9ad6" stroke="#344252" stroke-width="3" stroke-linejoin="round"/><polygon points="328,358.3 341,364.8 341,393.8 328,387.3" fill="#2e9ad6" stroke="#344252" stroke-width="3" stroke-linejoin="round"/><polygon points="328,400.6 341,407.1 341,436.1 328,429.6" fill="#2e9ad6" stroke="#344252" stroke-width="3" stroke-linejoin="round"/><polygon points="328,442.9 341,449.4 341,478.4 328,471.9" fill="#2e9ad6" stroke="#344252" stroke-width="3" stroke-linejoin="round"/><polygon points="328,485.2 341,491.7 341,520.7 328,514.2" fill="#2e9ad6" stroke="#344252" stroke-width="3" stroke-linejoin="round"/><polygon points="328,527.5 341,534 341,563 328,556.5" fill="#2e9ad6" stroke="#344252" stroke-width="3" stroke-linejoin="round"/><polygon points="328,569.8 341,576.3 341,605.3 328,598.8" fill="#2e9ad6" stroke="#344252" stroke-width="3" stroke-linejoin="round"/><polygon points="350,327 363,333.5 363,362.5 350,356" fill="#2e9ad6" stroke="#344252" stroke-width="3" stroke-linejoin="round"/><polygon points="350,369.3 363,375.8 363,404.8 350,398.3" fill="#2e9ad6" stroke="#344252" stroke-width="3" stroke-linejoin="round"/><polygon points="350,411.6 363,418.1 363,447.1 350,440.6" fill="#2e9ad6" stroke="#344252" stroke-width="3" stroke-linejoin="round"/><polygon points="350,453.9 363,460.4 363,489.4 350,482.9" fill="#2e9ad6" stroke="#344252" stroke-width="3" stroke-linejoin="round"/><polygon points="350,496.2 363,502.7 363,531.7 350,525.2" fill="#2e9ad6" stroke="#344252" stroke-width="3" stroke-linejoin="round"/><polygon points="350,538.5 363,545 363,574 350,567.5" fill="#2e9ad6" stroke="#344252" stroke-width="3" stroke-linejoin="round"/><polygon points="350,580.8 363,587.3 363,616.3 350,609.8" fill="#2e9ad6" stroke="#344252" stroke-width="3" stroke-linejoin="round"/><polygon points="405,331.25 418,324.75 418,353.75 405,360.25" fill="#2e9ad6" stroke="#344252" stroke-width="3" stroke-linejoin="round"/><polygon points="405,373.55 418,367.05 418,396.05 405,402.55" fill="#2e9ad6" stroke="#344252" stroke-width="3" stroke-linejoin="round"/><polygon points="405,415.85 418,409.35 418,438.35 405,444.85" fill="#2e9ad6" stroke="#344252" stroke-width="3" stroke-linejoin="round"/><polygon points="405,458.15 418,451.65 418,480.65 405,487.15" fill="#2e9ad6" stroke="#344252" stroke-width="3" stroke-linejoin="round"/><polygon points="405,500.45 418,493.95 418,522.95 405,529.45" fill="#2e9ad6" stroke="#344252" stroke-width="3" stroke-linejoin="round"/><polygon points="405,542.75 418,536.25 418,565.25 405,571.75" fill="#2e9ad6" stroke="#344252" stroke-width="3" stroke-linejoin="round"/><polygon points="405,585.05 418,578.55 418,607.55 405,614.05" fill="#2e9ad6" stroke="#344252" stroke-width="3" stroke-linejoin="round"/><polygon points="428,319.52 441,313.02 441,342.02 428,348.52" fill="#2e9ad6" stroke="#344252" stroke-width="3" stroke-linejoin="round"/><polygon points="428,361.82 441,355.32 441,384.32 428,390.82" fill="#2e9ad6" stroke="#344252" stroke-width="3" stroke-linejoin="round"/><polygon points="428,404.12 441,397.62 441,426.62 428,433.12" fill="#2e9ad6" stroke="#344252" stroke-width="3" stroke-linejoin="round"/><polygon points="428,446.42 441,439.92 441,468.92 428,475.42" fill="#2e9ad6" stroke="#344252" stroke-width="3" stroke-linejoin="round"/><polygon points="428,488.72 441,482.22 441,511.22 428,517.72" fill="#2e9ad6" stroke="#344252" stroke-width="3" stroke-linejoin="round"/><polygon points="428,531.02 441,524.52 441,553.52 428,560.02" fill="#2e9ad6" stroke="#344252" stroke-width="3" stroke-linejoin="round"/><polygon points="428,573.32 441,566.82 441,595.82 428,602.32" fill="#2e9ad6" stroke="#344252" stroke-width="3" stroke-linejoin="round"/><polygon points="452,307.28 465,300.78 465,329.78 452,336.28" fill="#2e9ad6" stroke="#344252" stroke-width="3" stroke-linejoin="round"/><polygon points="452,349.58 465,343.08 465,372.08 452,378.58" fill="#2e9ad6" stroke="#344252" stroke-width="3" stroke-linejoin="round"/><polygon points="452,391.88 465,385.38 465,414.38 452,420.88" fill="#2e9ad6" stroke="#344252" stroke-width="3" stroke-linejoin="round"/><polygon points="452,434.18 465,427.68 465,456.68 452,463.18" fill="#2e9ad6" stroke="#344252" stroke-width="3" stroke-linejoin="round"/><polygon points="452,476.48 465,469.98 465,498.98 452,505.48" fill="#2e9ad6" stroke="#344252" stroke-width="3" stroke-linejoin="round"/><polygon points="452,518.78 465,512.28 465,541.28 452,547.78" fill="#2e9ad6" stroke="#344252" stroke-width="3" stroke-linejoin="round"/><polygon points="452,561.08 465,554.58 465,583.58 452,590.08" fill="#2e9ad6" stroke="#344252" stroke-width="3" stroke-linejoin="round"/><polygon points="475,295.55 488,289.05 488,318.05 475,324.55" fill="#2e9ad6" stroke="#344252" stroke-width="3" stroke-linejoin="round"/><polygon points="475,337.85 488,331.35 488,360.35 475,366.85" fill="#2e9ad6" stroke="#344252" stroke-width="3" stroke-linejoin="round"/><polygon points="475,380.15 488,373.65 488,402.65 475,409.15" fill="#2e9ad6" stroke="#344252" stroke-width="3" stroke-linejoin="round"/><polygon points="475,422.45 488,415.95 488,444.95 475,451.45" fill="#2e9ad6" stroke="#344252" stroke-width="3" stroke-linejoin="round"/><polygon points="475,464.75 488,458.25 488,487.25 475,493.75" fill="#2e9ad6" stroke="#344252" stroke-width="3" stroke-linejoin="round"/><polygon points="475,507.05 488,500.55 488,529.55 475,536.05" fill="#2e9ad6" stroke="#344252" stroke-width="3" stroke-linejoin="round"/><polygon points="475,549.35 488,542.85 488,571.85 475,578.35" fill="#2e9ad6" stroke="#344252" stroke-width="3" stroke-linejoin="round"/><polygon points="520,272.6 533,266.1 533,295.1 520,301.6" fill="#2e9ad6" stroke="#344252" stroke-width="3" stroke-linejoin="round"/><polygon points="520,314.9 533,308.4 533,337.4 520,343.9" fill="#2e9ad6" stroke="#344252" stroke-width="3" stroke-linejoin="round"/><polygon points="520,357.2 533,350.7 533,379.7 520,386.2" fill="#2e9ad6" stroke="#344252" stroke-width="3" stroke-linejoin="round"/><polygon points="520,399.5 533,393 533,422 520,428.5" fill="#2e9ad6" stroke="#344252" stroke-width="3" stroke-linejoin="round"/><polygon points="520,441.8 533,435.3 533,464.3 520,470.8" fill="#2e9ad6" stroke="#344252" stroke-width="3" stroke-linejoin="round"/><polygon points="520,484.1 533,477.6 533,506.6 520,513.1" fill="#2e9ad6" stroke="#344252" stroke-width="3" stroke-linejoin="round"/><polygon points="520,526.4 533,519.9 533,548.9 520,555.4" fill="#2e9ad6" stroke="#344252" stroke-width="3" stroke-linejoin="round"/><polygon points="543,260.87 556,254.37 556,283.37 543,289.87" fill="#2e9ad6" stroke="#344252" stroke-width="3" stroke-linejoin="round"/><polygon points="543,303.17 556,296.67 556,325.67 543,332.17" fill="#2e9ad6" stroke="#344252" stroke-width="3" stroke-linejoin="round"/><polygon points="543,345.47 556,338.97 556,367.97 543,374.47" fill="#2e9ad6" stroke="#344252" stroke-width="3" stroke-linejoin="round"/><polygon points="543,387.77 556,381.27 556,410.27 543,416.77" fill="#2e9ad6" stroke="#344252" stroke-width="3" stroke-linejoin="round"/><polygon points="543,430.07 556,423.57 556,452.57 543,459.07" fill="#2e9ad6" stroke="#344252" stroke-width="3" stroke-linejoin="round"/><polygon points="543,472.37 556,465.87 556,494.87 543,501.37" fill="#2e9ad6" stroke="#344252" stroke-width="3" stroke-linejoin="round"/><polygon points="543,514.67 556,508.17 556,537.17 543,543.67" fill="#2e9ad6" stroke="#344252" stroke-width="3" stroke-linejoin="round"/><polygon points="567,248.63 580,242.13 580,271.13 567,277.63" fill="#2e9ad6" stroke="#344252" stroke-width="3" stroke-linejoin="round"/><polygon points="567,290.93 580,284.43 580,313.43 567,319.93" fill="#2e9ad6" stroke="#344252" stroke-width="3" stroke-linejoin="round"/><polygon points="567,333.23 580,326.73 580,355.73 567,362.23" fill="#2e9ad6" stroke="#344252" stroke-width="3" stroke-linejoin="round"/><polygon points="567,375.53 580,369.03 580,398.03 567,404.53" fill="#2e9ad6" stroke="#344252" stroke-width="3" stroke-linejoin="round"/><polygon points="567,417.83 580,411.33 580,440.33 567,446.83" fill="#2e9ad6" stroke="#344252" stroke-width="3" stroke-linejoin="round"/><polygon points="567,460.13 580,453.63 580,482.63 567,489.13" fill="#2e9ad6" stroke="#344252" stroke-width="3" stroke-linejoin="round"/><polygon points="567,502.43 580,495.93 580,524.93 567,531.43" fill="#2e9ad6" stroke="#344252" stroke-width="3" stroke-linejoin="round"/><polygon points="590,236.9 603,230.4 603,259.4 590,265.9" fill="#2e9ad6" stroke="#344252" stroke-width="3" stroke-linejoin="round"/><polygon points="590,279.2 603,272.7 603,301.7 590,308.2" fill="#2e9ad6" stroke="#344252" stroke-width="3" stroke-linejoin="round"/><polygon points="590,321.5 603,315 603,344 590,350.5" fill="#2e9ad6" stroke="#344252" stroke-width="3" stroke-linejoin="round"/><polygon points="590,363.8 603,357.3 603,386.3 590,392.8" fill="#2e9ad6" stroke="#344252" stroke-width="3" stroke-linejoin="round"/><polygon points="590,406.1 603,399.6 603,428.6 590,435.1" fill="#2e9ad6" stroke="#344252" stroke-width="3" stroke-linejoin="round"/><polygon points="590,448.4 603,441.9 603,470.9 590,477.4" fill="#2e9ad6" stroke="#344252" stroke-width="3" stroke-linejoin="round"/><polygon points="590,490.7 603,484.2 603,513.2 590,519.7" fill="#2e9ad6" stroke="#344252" stroke-width="3" stroke-linejoin="round"/></g><!--TOP--><path id="cov" d="M155.3,234.7C155.5,231.2 155.4,219.9 156.5,214.0C157.6,208.1 159.3,203.7 162.1,199.3C164.9,194.9 168.8,190.9 173.1,187.5C177.4,184.1 181.1,182.2 187.8,179.0C194.5,175.8 203.1,172.3 213.5,168.0C223.9,163.7 238.0,157.4 250.3,153.3C262.6,149.2 274.9,146.0 287.1,143.4C299.4,140.8 311.6,139.7 323.8,137.9C336.1,136.1 348.3,134.1 360.6,132.4C372.9,130.7 387.5,128.9 397.4,127.6C407.3,126.3 413.7,125.3 420.0,124.6C426.3,123.9 432.7,123.6 435.2,123.4L443.5,123.4Q446.5,123.4 449.5,124.9L590,195.8C590.8,196.1 592.2,195.7 594.5,197.8C596.8,199.9 600.9,204.2 603.8,208.6C606.6,213.0 609.3,218.4 611.6,224.1C613.9,229.8 615.5,235.6 617.8,242.8C620.1,250.1 622.8,260.4 625.5,267.6C628.2,274.8 631.1,279.5 633.8,286.2C636.4,292.9 638.4,299.4 641.4,307.6C644.4,315.8 648.2,326.0 651.7,335.2C655.2,344.4 659.5,354.8 662.1,362.8C664.7,370.8 666.6,376.5 667.2,383.4C667.8,390.3 666.6,397.8 665.5,404.1C664.4,410.4 662.3,416.2 660.3,421.4C658.3,426.6 656.3,430.9 653.4,435.2C650.5,439.5 647.4,444.0 643.1,447.2C638.8,450.4 633.1,453.0 627.6,454.1C622.1,455.2 618.3,455.0 610.3,454.1C602.2,453.2 590.2,451.0 579.3,449.0C568.4,447.0 556.3,444.7 544.8,442.1C533.3,439.5 521.8,436.3 510.3,433.4C498.8,430.5 487.1,427.7 475.9,424.8C464.7,421.9 451.3,418.4 443.0,416.0C434.7,413.6 432.2,412.2 425.9,410.7C419.6,409.2 413.2,407.2 405.2,406.9C397.1,406.6 386.8,408.1 377.6,409.0C368.4,409.9 359.2,411.5 350.0,412.4C340.8,413.3 331.6,414.7 322.4,414.5C313.2,414.3 302.9,412.2 294.8,411.4C286.8,410.6 280.4,410.2 274.1,409.5C267.8,408.8 262.1,408.6 256.9,407.2C251.7,405.8 247.1,403.8 243.1,401.0C239.1,398.2 236.5,395.9 232.8,390.7C229.1,385.5 224.7,376.9 220.7,370.0C216.7,363.1 212.6,356.8 208.6,349.3C204.6,341.8 201.6,334.3 196.6,325.2C191.6,316.1 183.4,303.6 178.6,294.9C173.8,286.2 170.7,279.6 167.6,272.8C164.5,266.1 162.2,260.8 160.2,254.4C158.1,248.1 156.1,238.0 155.3,234.7" fill="none" stroke="#ff7f0e" stroke-width="2.6" stroke-dasharray="8.4 8.705"/><g transform="translate(35.1379,131.779) scale(0.0689655,0.0689655)"><polygon points="85,255 92,225 110,195 150,160 235,130 290,134 400,125 470,140 560,181 612,250 640,290 760,385 776,430 750,470 640,545 580,550 545,522 440,452 250,357 150,302" fill="#2a8c46" stroke="#114a24" stroke-width="9" stroke-linejoin="round"/><polygon points="580,550 545,522 560,490 650,455 760,385 776,430 750,470 640,545" fill="#1a6c32"/><polygon points="492,365 615,285 760,385 650,455" fill="#42a85e" stroke="#114a24" stroke-width="5" stroke-linejoin="round"/><polygon points="110,195 150,160 235,130 330,140 245,215 225,235" fill="#42a85e" stroke="#114a24" stroke-width="5" stroke-linejoin="round"/><polygon points="320,186 400,128 470,140 560,182 580,216 450,300 345,236" fill="#27863f" stroke="#114a24" stroke-width="5" stroke-linejoin="round"/><polygon points="245,212 330,146 366,150 320,186 280,226" fill="#c4e4ff" stroke="#114a24" stroke-width="5" stroke-linejoin="round"/><polygon points="450,300 578,216 612,276 492,358" fill="#c4e4ff" stroke="#114a24" stroke-width="5" stroke-linejoin="round"/><polygon points="258,236 320,190 345,240 330,290" fill="#b4dcff" stroke="#114a24" stroke-width="5" stroke-linejoin="round"/><polygon points="358,250 382,248 450,302 455,346 350,300" fill="#b4dcff" stroke="#114a24" stroke-width="5" stroke-linejoin="round"/><polyline points="225,235 236,338" fill="none" stroke="#114a24" stroke-width="5"/><polyline points="340,298 330,392" fill="none" stroke="#114a24" stroke-width="5"/><polyline points="455,350 440,446" fill="none" stroke="#114a24" stroke-width="5"/><polygon points="575,482 650,486 645,508 582,508" fill="#ffe88a" stroke="#a87a10" stroke-width="2" stroke-linejoin="round"/><polygon points="742,390 764,382 768,428 748,436" fill="#ffb648" stroke="#a86a10" stroke-width="2" stroke-linejoin="round"/><polygon points="88,232 106,198 116,208 98,246" fill="#ff8c3a"/><ellipse cx="696" cy="440" rx="42" ry="15" transform="rotate(-33 696 440)" fill="#8a8a8a" stroke="#444" stroke-width="2"/><ellipse cx="200" cy="332" rx="43" ry="49" fill="#3a3a3a"/><ellipse cx="197" cy="334" rx="21" ry="25" fill="#7a7a7a"/><ellipse cx="197" cy="334" rx="8" ry="10" fill="#444"/><ellipse cx="490" cy="472" rx="43" ry="49" fill="#3a3a3a"/><ellipse cx="487" cy="474" rx="21" ry="25" fill="#7a7a7a"/><ellipse cx="487" cy="474" rx="8" ry="10" fill="#444"/></g><g transform="translate(150.438,198.579) scale(0.0689655,0.0689655)"><polygon points="85,255 92,225 110,195 150,160 235,130 290,134 400,125 470,140 560,181 612,250 640,290 760,385 776,430 750,470 640,545 580,550 545,522 440,452 250,357 150,302" fill="#1a82d2" stroke="#0b4478" stroke-width="9" stroke-linejoin="round"/><polygon points="580,550 545,522 560,490 650,455 760,385 776,430 750,470 640,545" fill="#0f62a8"/><polygon points="492,365 615,285 760,385 650,455" fill="#2a98e6" stroke="#0b4478" stroke-width="5" stroke-linejoin="round"/><polygon points="110,195 150,160 235,130 330,140 245,215 225,235" fill="#2a98e6" stroke="#0b4478" stroke-width="5" stroke-linejoin="round"/><polygon points="320,186 400,128 470,140 560,182 580,216 450,300 345,236" fill="#1480d2" stroke="#0b4478" stroke-width="5" stroke-linejoin="round"/><polygon points="245,212 330,146 366,150 320,186 280,226" fill="#c4e4ff" stroke="#0b4478" stroke-width="5" stroke-linejoin="round"/><polygon points="450,300 578,216 612,276 492,358" fill="#c4e4ff" stroke="#0b4478" stroke-width="5" stroke-linejoin="round"/><polygon points="258,236 320,190 345,240 330,290" fill="#b4dcff" stroke="#0b4478" stroke-width="5" stroke-linejoin="round"/><polygon points="358,250 382,248 450,302 455,346 350,300" fill="#b4dcff" stroke="#0b4478" stroke-width="5" stroke-linejoin="round"/><polyline points="225,235 236,338" fill="none" stroke="#0b4478" stroke-width="5"/><polyline points="340,298 330,392" fill="none" stroke="#0b4478" stroke-width="5"/><polyline points="455,350 440,446" fill="none" stroke="#0b4478" stroke-width="5"/><polygon points="575,482 650,486 645,508 582,508" fill="#ffe88a" stroke="#a87a10" stroke-width="2" stroke-linejoin="round"/><polygon points="742,390 764,382 768,428 748,436" fill="#ffb648" stroke="#a86a10" stroke-width="2" stroke-linejoin="round"/><polygon points="88,232 106,198 116,208 98,246" fill="#ff8c3a"/><ellipse cx="696" cy="440" rx="42" ry="15" transform="rotate(-33 696 440)" fill="#8a8a8a" stroke="#444" stroke-width="2"/><ellipse cx="200" cy="332" rx="43" ry="49" fill="#3a3a3a"/><ellipse cx="197" cy="334" rx="21" ry="25" fill="#7a7a7a"/><ellipse cx="197" cy="334" rx="8" ry="10" fill="#444"/><ellipse cx="490" cy="472" rx="43" ry="49" fill="#3a3a3a"/><ellipse cx="487" cy="474" rx="21" ry="25" fill="#7a7a7a"/><ellipse cx="487" cy="474" rx="8" ry="10" fill="#444"/></g><g transform="translate(256.038,251.979) scale(0.0689655,0.0689655)"><polygon points="85,255 92,225 110,195 150,160 235,130 290,134 400,125 470,140 560,181 612,250 640,290 760,385 776,430 750,470 640,545 580,550 545,522 440,452 250,357 150,302" fill="#dc3810" stroke="#741804" stroke-width="9" stroke-linejoin="round"/><polygon points="580,550 545,522 560,490 650,455 760,385 776,430 750,470 640,545" fill="#b42a06"/><polygon points="492,365 615,285 760,385 650,455" fill="#ea5228" stroke="#741804" stroke-width="5" stroke-linejoin="round"/><polygon points="110,195 150,160 235,130 330,140 245,215 225,235" fill="#ea5228" stroke="#741804" stroke-width="5" stroke-linejoin="round"/><polygon points="320,186 400,128 470,140 560,182 580,216 450,300 345,236" fill="#d43608" stroke="#741804" stroke-width="5" stroke-linejoin="round"/><polygon points="245,212 330,146 366,150 320,186 280,226" fill="#c4e4ff" stroke="#741804" stroke-width="5" stroke-linejoin="round"/><polygon points="450,300 578,216 612,276 492,358" fill="#c4e4ff" stroke="#741804" stroke-width="5" stroke-linejoin="round"/><polygon points="258,236 320,190 345,240 330,290" fill="#b4dcff" stroke="#741804" stroke-width="5" stroke-linejoin="round"/><polygon points="358,250 382,248 450,302 455,346 350,300" fill="#b4dcff" stroke="#741804" stroke-width="5" stroke-linejoin="round"/><polyline points="225,235 236,338" fill="none" stroke="#741804" stroke-width="5"/><polyline points="340,298 330,392" fill="none" stroke="#741804" stroke-width="5"/><polyline points="455,350 440,446" fill="none" stroke="#741804" stroke-width="5"/><polygon points="575,482 650,486 645,508 582,508" fill="#ffe88a" stroke="#a87a10" stroke-width="2" stroke-linejoin="round"/><polygon points="742,390 764,382 768,428 748,436" fill="#ffb648" stroke="#a86a10" stroke-width="2" stroke-linejoin="round"/><polygon points="88,232 106,198 116,208 98,246" fill="#ff8c3a"/><ellipse cx="696" cy="440" rx="42" ry="15" transform="rotate(-33 696 440)" fill="#8a8a8a" stroke="#444" stroke-width="2"/><ellipse cx="200" cy="332" rx="43" ry="49" fill="#3a3a3a"/><ellipse cx="197" cy="334" rx="21" ry="25" fill="#7a7a7a"/><ellipse cx="197" cy="334" rx="8" ry="10" fill="#444"/><ellipse cx="490" cy="472" rx="43" ry="49" fill="#3a3a3a"/><ellipse cx="487" cy="474" rx="21" ry="25" fill="#7a7a7a"/><ellipse cx="487" cy="474" rx="8" ry="10" fill="#444"/></g><g transform="translate(520.648,227.379) scale(-0.0689655,0.0689655)"><polygon points="85,255 92,225 110,195 150,160 235,130 290,134 400,125 470,140 560,181 612,250 640,290 760,385 776,430 750,470 640,545 580,550 545,522 440,452 250,357 150,302" fill="#2a8c46" stroke="#114a24" stroke-width="9" stroke-linejoin="round"/><polygon points="580,550 545,522 560,490 650,455 760,385 776,430 750,470 640,545" fill="#1a6c32"/><polygon points="492,365 615,285 760,385 650,455" fill="#42a85e" stroke="#114a24" stroke-width="5" stroke-linejoin="round"/><polygon points="110,195 150,160 235,130 330,140 245,215 225,235" fill="#42a85e" stroke="#114a24" stroke-width="5" stroke-linejoin="round"/><polygon points="320,186 400,128 470,140 560,182 580,216 450,300 345,236" fill="#27863f" stroke="#114a24" stroke-width="5" stroke-linejoin="round"/><polygon points="245,212 330,146 366,150 320,186 280,226" fill="#c4e4ff" stroke="#114a24" stroke-width="5" stroke-linejoin="round"/><polygon points="450,300 578,216 612,276 492,358" fill="#c4e4ff" stroke="#114a24" stroke-width="5" stroke-linejoin="round"/><polygon points="258,236 320,190 345,240 330,290" fill="#b4dcff" stroke="#114a24" stroke-width="5" stroke-linejoin="round"/><polygon points="358,250 382,248 450,302 455,346 350,300" fill="#b4dcff" stroke="#114a24" stroke-width="5" stroke-linejoin="round"/><polyline points="225,235 236,338" fill="none" stroke="#114a24" stroke-width="5"/><polyline points="340,298 330,392" fill="none" stroke="#114a24" stroke-width="5"/><polyline points="455,350 440,446" fill="none" stroke="#114a24" stroke-width="5"/><polygon points="575,482 650,486 645,508 582,508" fill="#ffe88a" stroke="#a87a10" stroke-width="2" stroke-linejoin="round"/><polygon points="742,390 764,382 768,428 748,436" fill="#ffb648" stroke="#a86a10" stroke-width="2" stroke-linejoin="round"/><polygon points="88,232 106,198 116,208 98,246" fill="#ff8c3a"/><ellipse cx="696" cy="440" rx="42" ry="15" transform="rotate(-33 696 440)" fill="#8a8a8a" stroke="#444" stroke-width="2"/><ellipse cx="200" cy="332" rx="43" ry="49" fill="#3a3a3a"/><ellipse cx="197" cy="334" rx="21" ry="25" fill="#7a7a7a"/><ellipse cx="197" cy="334" rx="8" ry="10" fill="#444"/><ellipse cx="490" cy="472" rx="43" ry="49" fill="#3a3a3a"/><ellipse cx="487" cy="474" rx="21" ry="25" fill="#7a7a7a"/><ellipse cx="487" cy="474" rx="8" ry="10" fill="#444"/></g><g transform="translate(303.448,360.179) scale(-0.0689655,0.0689655)"><polygon points="85,255 92,225 110,195 150,160 235,130 290,134 400,125 470,140 560,181 612,250 640,290 760,385 776,430 750,470 640,545 580,550 545,522 440,452 250,357 150,302" fill="#1a82d2" stroke="#0b4478" stroke-width="9" stroke-linejoin="round"/><polygon points="580,550 545,522 560,490 650,455 760,385 776,430 750,470 640,545" fill="#0f62a8"/><polygon points="492,365 615,285 760,385 650,455" fill="#2a98e6" stroke="#0b4478" stroke-width="5" stroke-linejoin="round"/><polygon points="110,195 150,160 235,130 330,140 245,215 225,235" fill="#2a98e6" stroke="#0b4478" stroke-width="5" stroke-linejoin="round"/><polygon points="320,186 400,128 470,140 560,182 580,216 450,300 345,236" fill="#1480d2" stroke="#0b4478" stroke-width="5" stroke-linejoin="round"/><polygon points="245,212 330,146 366,150 320,186 280,226" fill="#c4e4ff" stroke="#0b4478" stroke-width="5" stroke-linejoin="round"/><polygon points="450,300 578,216 612,276 492,358" fill="#c4e4ff" stroke="#0b4478" stroke-width="5" stroke-linejoin="round"/><polygon points="258,236 320,190 345,240 330,290" fill="#b4dcff" stroke="#0b4478" stroke-width="5" stroke-linejoin="round"/><polygon points="358,250 382,248 450,302 455,346 350,300" fill="#b4dcff" stroke="#0b4478" stroke-width="5" stroke-linejoin="round"/><polyline points="225,235 236,338" fill="none" stroke="#0b4478" stroke-width="5"/><polyline points="340,298 330,392" fill="none" stroke="#0b4478" stroke-width="5"/><polyline points="455,350 440,446" fill="none" stroke="#0b4478" stroke-width="5"/><polygon points="575,482 650,486 645,508 582,508" fill="#ffe88a" stroke="#a87a10" stroke-width="2" stroke-linejoin="round"/><polygon points="742,390 764,382 768,428 748,436" fill="#ffb648" stroke="#a86a10" stroke-width="2" stroke-linejoin="round"/><polygon points="88,232 106,198 116,208 98,246" fill="#ff8c3a"/><ellipse cx="696" cy="440" rx="42" ry="15" transform="rotate(-33 696 440)" fill="#8a8a8a" stroke="#444" stroke-width="2"/><ellipse cx="200" cy="332" rx="43" ry="49" fill="#3a3a3a"/><ellipse cx="197" cy="334" rx="21" ry="25" fill="#7a7a7a"/><ellipse cx="197" cy="334" rx="8" ry="10" fill="#444"/><ellipse cx="490" cy="472" rx="43" ry="49" fill="#3a3a3a"/><ellipse cx="487" cy="474" rx="21" ry="25" fill="#7a7a7a"/><ellipse cx="487" cy="474" rx="8" ry="10" fill="#444"/></g><g transform="translate(105.248,457.579) scale(-0.0689655,0.0689655)"><polygon points="85,255 92,225 110,195 150,160 235,130 290,134 400,125 470,140 560,181 612,250 640,290 760,385 776,430 750,470 640,545 580,550 545,522 440,452 250,357 150,302" fill="#f8940c" stroke="#8a4c02" stroke-width="9" stroke-linejoin="round"/><polygon points="580,550 545,522 560,490 650,455 760,385 776,430 750,470 640,545" fill="#d87802"/><polygon points="492,365 615,285 760,385 650,455" fill="#ffaa26" stroke="#8a4c02" stroke-width="5" stroke-linejoin="round"/><polygon points="110,195 150,160 235,130 330,140 245,215 225,235" fill="#ffaa26" stroke="#8a4c02" stroke-width="5" stroke-linejoin="round"/><polygon points="320,186 400,128 470,140 560,182 580,216 450,300 345,236" fill="#fb980c" stroke="#8a4c02" stroke-width="5" stroke-linejoin="round"/><polygon points="245,212 330,146 366,150 320,186 280,226" fill="#c4e4ff" stroke="#8a4c02" stroke-width="5" stroke-linejoin="round"/><polygon points="450,300 578,216 612,276 492,358" fill="#c4e4ff" stroke="#8a4c02" stroke-width="5" stroke-linejoin="round"/><polygon points="258,236 320,190 345,240 330,290" fill="#b4dcff" stroke="#8a4c02" stroke-width="5" stroke-linejoin="round"/><polygon points="358,250 382,248 450,302 455,346 350,300" fill="#b4dcff" stroke="#8a4c02" stroke-width="5" stroke-linejoin="round"/><polyline points="225,235 236,338" fill="none" stroke="#8a4c02" stroke-width="5"/><polyline points="340,298 330,392" fill="none" stroke="#8a4c02" stroke-width="5"/><polyline points="455,350 440,446" fill="none" stroke="#8a4c02" stroke-width="5"/><path d="M236,300L440,402" stroke="#3a2a00" stroke-width="10" stroke-dasharray="9 9" fill="none"/><polygon points="575,482 650,486 645,508 582,508" fill="#ffe88a" stroke="#a87a10" stroke-width="2" stroke-linejoin="round"/><polygon points="742,390 764,382 768,428 748,436" fill="#ffb648" stroke="#a86a10" stroke-width="2" stroke-linejoin="round"/><polygon points="88,232 106,198 116,208 98,246" fill="#ff8c3a"/><ellipse cx="696" cy="440" rx="42" ry="15" transform="rotate(-33 696 440)" fill="#8a8a8a" stroke="#444" stroke-width="2"/><ellipse cx="200" cy="332" rx="43" ry="49" fill="#3a3a3a"/><ellipse cx="197" cy="334" rx="21" ry="25" fill="#7a7a7a"/><ellipse cx="197" cy="334" rx="8" ry="10" fill="#444"/><ellipse cx="490" cy="472" rx="43" ry="49" fill="#3a3a3a"/><ellipse cx="487" cy="474" rx="21" ry="25" fill="#7a7a7a"/><ellipse cx="487" cy="474" rx="8" ry="10" fill="#444"/></g><g transform="translate(432.738,332.979) scale(0.0689655,0.0689655)"><polygon points="85,255 92,225 110,195 150,160 235,130 290,134 400,125 470,140 560,181 612,250 640,290 760,385 776,430 750,470 640,545 580,550 545,522 440,452 250,357 150,302" fill="#1a82d2" stroke="#0b4478" stroke-width="9" stroke-linejoin="round"/><polygon points="580,550 545,522 560,490 650,455 760,385 776,430 750,470 640,545" fill="#0f62a8"/><polygon points="492,365 615,285 760,385 650,455" fill="#2a98e6" stroke="#0b4478" stroke-width="5" stroke-linejoin="round"/><polygon points="110,195 150,160 235,130 330,140 245,215 225,235" fill="#2a98e6" stroke="#0b4478" stroke-width="5" stroke-linejoin="round"/><polygon points="320,186 400,128 470,140 560,182 580,216 450,300 345,236" fill="#1480d2" stroke="#0b4478" stroke-width="5" stroke-linejoin="round"/><polygon points="245,212 330,146 366,150 320,186 280,226" fill="#c4e4ff" stroke="#0b4478" stroke-width="5" stroke-linejoin="round"/><polygon points="450,300 578,216 612,276 492,358" fill="#c4e4ff" stroke="#0b4478" stroke-width="5" stroke-linejoin="round"/><polygon points="258,236 320,190 345,240 330,290" fill="#b4dcff" stroke="#0b4478" stroke-width="5" stroke-linejoin="round"/><polygon points="358,250 382,248 450,302 455,346 350,300" fill="#b4dcff" stroke="#0b4478" stroke-width="5" stroke-linejoin="round"/><polyline points="225,235 236,338" fill="none" stroke="#0b4478" stroke-width="5"/><polyline points="340,298 330,392" fill="none" stroke="#0b4478" stroke-width="5"/><polyline points="455,350 440,446" fill="none" stroke="#0b4478" stroke-width="5"/><polygon points="575,482 650,486 645,508 582,508" fill="#ffe88a" stroke="#a87a10" stroke-width="2" stroke-linejoin="round"/><polygon points="742,390 764,382 768,428 748,436" fill="#ffb648" stroke="#a86a10" stroke-width="2" stroke-linejoin="round"/><polygon points="88,232 106,198 116,208 98,246" fill="#ff8c3a"/><ellipse cx="696" cy="440" rx="42" ry="15" transform="rotate(-33 696 440)" fill="#8a8a8a" stroke="#444" stroke-width="2"/><ellipse cx="200" cy="332" rx="43" ry="49" fill="#3a3a3a"/><ellipse cx="197" cy="334" rx="21" ry="25" fill="#7a7a7a"/><ellipse cx="197" cy="334" rx="8" ry="10" fill="#444"/><ellipse cx="490" cy="472" rx="43" ry="49" fill="#3a3a3a"/><ellipse cx="487" cy="474" rx="21" ry="25" fill="#7a7a7a"/><ellipse cx="487" cy="474" rx="8" ry="10" fill="#444"/></g><g transform="translate(583.938,414.879) scale(0.0689655,0.0689655)"><polygon points="85,255 92,225 110,195 150,160 235,130 290,134 400,125 470,140 560,181 612,250 640,290 760,385 776,430 750,470 640,545 580,550 545,522 440,452 250,357 150,302" fill="#f8940c" stroke="#8a4c02" stroke-width="9" stroke-linejoin="round"/><polygon points="580,550 545,522 560,490 650,455 760,385 776,430 750,470 640,545" fill="#d87802"/><polygon points="492,365 615,285 760,385 650,455" fill="#ffaa26" stroke="#8a4c02" stroke-width="5" stroke-linejoin="round"/><polygon points="110,195 150,160 235,130 330,140 245,215 225,235" fill="#ffaa26" stroke="#8a4c02" stroke-width="5" stroke-linejoin="round"/><polygon points="320,186 400,128 470,140 560,182 580,216 450,300 345,236" fill="#fb980c" stroke="#8a4c02" stroke-width="5" stroke-linejoin="round"/><polygon points="245,212 330,146 366,150 320,186 280,226" fill="#c4e4ff" stroke="#8a4c02" stroke-width="5" stroke-linejoin="round"/><polygon points="450,300 578,216 612,276 492,358" fill="#c4e4ff" stroke="#8a4c02" stroke-width="5" stroke-linejoin="round"/><polygon points="258,236 320,190 345,240 330,290" fill="#b4dcff" stroke="#8a4c02" stroke-width="5" stroke-linejoin="round"/><polygon points="358,250 382,248 450,302 455,346 350,300" fill="#b4dcff" stroke="#8a4c02" stroke-width="5" stroke-linejoin="round"/><polyline points="225,235 236,338" fill="none" stroke="#8a4c02" stroke-width="5"/><polyline points="340,298 330,392" fill="none" stroke="#8a4c02" stroke-width="5"/><polyline points="455,350 440,446" fill="none" stroke="#8a4c02" stroke-width="5"/><path d="M236,300L440,402" stroke="#3a2a00" stroke-width="10" stroke-dasharray="9 9" fill="none"/><polygon points="575,482 650,486 645,508 582,508" fill="#ffe88a" stroke="#a87a10" stroke-width="2" stroke-linejoin="round"/><polygon points="742,390 764,382 768,428 748,436" fill="#ffb648" stroke="#a86a10" stroke-width="2" stroke-linejoin="round"/><polygon points="88,232 106,198 116,208 98,246" fill="#ff8c3a"/><ellipse cx="696" cy="440" rx="42" ry="15" transform="rotate(-33 696 440)" fill="#8a8a8a" stroke="#444" stroke-width="2"/><ellipse cx="200" cy="332" rx="43" ry="49" fill="#3a3a3a"/><ellipse cx="197" cy="334" rx="21" ry="25" fill="#7a7a7a"/><ellipse cx="197" cy="334" rx="8" ry="10" fill="#444"/><ellipse cx="490" cy="472" rx="43" ry="49" fill="#3a3a3a"/><ellipse cx="487" cy="474" rx="21" ry="25" fill="#7a7a7a"/><ellipse cx="487" cy="474" rx="8" ry="10" fill="#444"/></g><g transform="translate(754.738,480.579) scale(0.0689655,0.0689655)"><polygon points="85,255 92,225 110,195 150,160 235,130 290,134 400,125 470,140 560,181 612,250 640,290 760,385 776,430 750,470 640,545 580,550 545,522 440,452 250,357 150,302" fill="#1a82d2" stroke="#0b4478" stroke-width="9" stroke-linejoin="round"/><polygon points="580,550 545,522 560,490 650,455 760,385 776,430 750,470 640,545" fill="#0f62a8"/><polygon points="492,365 615,285 760,385 650,455" fill="#2a98e6" stroke="#0b4478" stroke-width="5" stroke-linejoin="round"/><polygon points="110,195 150,160 235,130 330,140 245,215 225,235" fill="#2a98e6" stroke="#0b4478" stroke-width="5" stroke-linejoin="round"/><polygon points="320,186 400,128 470,140 560,182 580,216 450,300 345,236" fill="#1480d2" stroke="#0b4478" stroke-width="5" stroke-linejoin="round"/><polygon points="245,212 330,146 366,150 320,186 280,226" fill="#c4e4ff" stroke="#0b4478" stroke-width="5" stroke-linejoin="round"/><polygon points="450,300 578,216 612,276 492,358" fill="#c4e4ff" stroke="#0b4478" stroke-width="5" stroke-linejoin="round"/><polygon points="258,236 320,190 345,240 330,290" fill="#b4dcff" stroke="#0b4478" stroke-width="5" stroke-linejoin="round"/><polygon points="358,250 382,248 450,302 455,346 350,300" fill="#b4dcff" stroke="#0b4478" stroke-width="5" stroke-linejoin="round"/><polyline points="225,235 236,338" fill="none" stroke="#0b4478" stroke-width="5"/><polyline points="340,298 330,392" fill="none" stroke="#0b4478" stroke-width="5"/><polyline points="455,350 440,446" fill="none" stroke="#0b4478" stroke-width="5"/><polygon points="575,482 650,486 645,508 582,508" fill="#ffe88a" stroke="#a87a10" stroke-width="2" stroke-linejoin="round"/><polygon points="742,390 764,382 768,428 748,436" fill="#ffb648" stroke="#a86a10" stroke-width="2" stroke-linejoin="round"/><polygon points="88,232 106,198 116,208 98,246" fill="#ff8c3a"/><ellipse cx="696" cy="440" rx="42" ry="15" transform="rotate(-33 696 440)" fill="#8a8a8a" stroke="#444" stroke-width="2"/><ellipse cx="200" cy="332" rx="43" ry="49" fill="#3a3a3a"/><ellipse cx="197" cy="334" rx="21" ry="25" fill="#7a7a7a"/><ellipse cx="197" cy="334" rx="8" ry="10" fill="#444"/><ellipse cx="490" cy="472" rx="43" ry="49" fill="#3a3a3a"/><ellipse cx="487" cy="474" rx="21" ry="25" fill="#7a7a7a"/><ellipse cx="487" cy="474" rx="8" ry="10" fill="#444"/></g><g transform="translate(690,110) scale(0.091954,0.091954)"><ellipse cx="640" cy="340" rx="42" ry="36" fill="#3a3a3a"/><ellipse cx="643" cy="340" rx="22" ry="20" fill="#7a7a7a"/><ellipse cx="440" cy="440" rx="42" ry="36" fill="#3a3a3a"/><ellipse cx="443" cy="440" rx="22" ry="20" fill="#7a7a7a"/><polygon points="240,270 380,330 380,440 240,380" fill="#8c8c8c" stroke="#555" stroke-width="3" stroke-linejoin="round"/><polygon points="380,330 705,180 705,292 380,440" fill="#adadad" stroke="#555" stroke-width="3" stroke-linejoin="round"/><polygon points="420,338 665,222 665,292 420,408" fill="#c9c9c9"/><polygon points="240,270 580,115 705,180 380,330" fill="#c4c4c4" stroke="#666" stroke-width="3" stroke-linejoin="round"/><polygon points="78,440 150,375 185,335 250,300 355,350 360,450 290,505 200,545 140,550 85,500" fill="#3a6cb8" stroke="#1e3a70" stroke-width="4" stroke-linejoin="round"/><polygon points="80,438 150,378 260,430 205,480" fill="#4a7cc8"/><polygon points="185,335 250,300 355,350 290,388" fill="#4476c2" stroke="#1e3a70" stroke-width="3" stroke-linejoin="round"/><polygon points="152,382 188,342 286,392 262,440" fill="#dfe6ee" stroke="#1e3a70" stroke-width="3" stroke-linejoin="round"/><polygon points="298,400 346,372 346,420 292,448" fill="#dfe6ee" stroke="#1e3a70" stroke-width="3" stroke-linejoin="round"/><polygon points="80,445 205,485 200,545 140,550 85,500" fill="#2f5ca4"/><polygon points="158,505 192,512 190,528 158,522" fill="#fff08a"/><polygon points="88,470 150,498 150,512 88,486" fill="#8a8a8a"/><ellipse cx="258" cy="522" rx="42" ry="44" fill="#3a3a3a"/><ellipse cx="262" cy="524" rx="22" ry="24" fill="#7c7c7c"/><ellipse cx="262" cy="524" rx="9" ry="10" fill="#444"/></g><g transform="translate(310,420) scale(0.137931,0.137931)"><linearGradient id="plf" x1="0" y1="0" x2="0.4" y2="1"><stop offset="0" stop-color="#d2d2d2"/><stop offset="1" stop-color="#9a9a9a"/></linearGradient><polygon points="345,192 595,116 585,128 425,228" fill="#dcdcdc" stroke="#7c7c7c" stroke-width="3.5" stroke-linejoin="round"/><path d="M104,112 Q108,92 150,94 L500,268 L545,292 L548,322 L505,352 L470,336 L120,140 Q102,128 104,112Z" fill="url(#plf)" stroke="#747474" stroke-width="3.5"/><path d="M108,128 L285,222 L282,230 L118,142Z M345,262 L388,284 L384,292 L345,270Z M465,320 L500,338 L540,310 L545,322 L505,352 L465,332Z" fill="#7aa2cc"/><path d="M200,150 L410,262" stroke="#6a6a6a" stroke-width="5" stroke-dasharray="4 3" fill="none"/><polygon points="140,104 166,102 176,116 150,124" fill="#6d8fb4"/><polygon points="288,220 352,256 152,377 140,366" fill="#bcbcbc" stroke="#747474" stroke-width="3.5" stroke-linejoin="round"/><ellipse cx="410" cy="300" rx="42" ry="20" transform="rotate(18 410 300)" fill="#b4b4b4" stroke="#808080" stroke-width="2"/><polygon points="500,292 540,256 560,272 548,322" fill="#b8b8b8" stroke="#747474" stroke-width="3.5" stroke-linejoin="round"/><polygon points="540,256 722,276 700,282 562,276" fill="#d4d4d4" stroke="#787878" stroke-width="3.5" stroke-linejoin="round"/><polygon points="540,258 562,272 582,366 570,360 546,300" fill="#c8c8c8" stroke="#787878" stroke-width="3.5" stroke-linejoin="round"/></g><path d="M85.2,165.5L163.8,207.6" stroke="#bce08e" stroke-width="1.5" fill="none"/><polygon points="85.2,165.5 93.4576,166.179 90.6654,168.427 90.3414,171.997" fill="#bce08e"/><polygon points="163.8,207.6 155.542,206.921 158.335,204.673 158.659,201.103" fill="#bce08e"/><path d="M201.4,233.4L265.5,262.8" stroke="#bce08e" stroke-width="1.5" fill="none"/><polygon points="201.4,233.4 209.684,233.569 207.036,235.985 206.932,239.568" fill="#bce08e"/><polygon points="265.5,262.8 257.216,262.631 259.864,260.215 259.968,256.632" fill="#bce08e"/><path d="M307,286L395.4,313.3" stroke="#bce08e" stroke-width="1.5" fill="none"/><polygon points="307,286 315.235,285.089 312.924,287.829 313.288,291.396" fill="#bce08e"/><polygon points="395.4,313.3 387.165,314.211 389.476,311.471 389.112,307.904" fill="#bce08e"/><path d="M395.4,313.3L472,263.5" stroke="#bce08e" stroke-width="1.5" fill="none"/><polygon points="395.4,313.3 399.973,306.391 400.598,309.921 403.571,311.924" fill="#bce08e"/><polygon points="472,263.5 467.427,270.409 466.802,266.879 463.829,264.876" fill="#bce08e"/><path d="M513,238.5L697.5,159" stroke="#bce08e" stroke-width="1.5" fill="none"/><polygon points="513,238.5 518.674,232.462 518.694,236.047 521.285,238.523" fill="#bce08e"/><polygon points="697.5,159 691.826,165.038 691.806,161.453 689.215,158.977" fill="#bce08e"/><path d="M395.4,313.3L296,371" stroke="#bce08e" stroke-width="1.5" fill="none"/><polygon points="395.4,313.3 390.484,319.969 390.038,316.413 387.17,314.261" fill="#bce08e"/><polygon points="296,371 300.916,364.331 301.362,367.887 304.23,370.039" fill="#bce08e"/><path d="M249.5,392L95,468.5" stroke="#bce08e" stroke-width="1.5" fill="none"/><polygon points="249.5,392 244.153,398.33 243.944,394.751 241.225,392.415" fill="#bce08e"/><polygon points="95,468.5 100.347,462.17 100.556,465.749 103.275,468.085" fill="#bce08e"/><path d="M395.4,313.3L444.2,342.8" stroke="#bce08e" stroke-width="1.5" fill="none"/><polygon points="395.4,313.3 403.611,314.408 400.706,316.507 400.197,320.056" fill="#bce08e"/><polygon points="444.2,342.8 435.989,341.692 438.894,339.593 439.403,336.044" fill="#bce08e"/><path d="M483.4,367.9L596,427.6" stroke="#bce08e" stroke-width="1.5" fill="none"/><polygon points="483.4,367.9 491.66,368.545 488.878,370.804 488.569,374.376" fill="#bce08e"/><polygon points="596,427.6 587.74,426.955 590.522,424.696 590.831,421.124" fill="#bce08e"/><path d="M635.8,439.5L766,492.5" stroke="#bce08e" stroke-width="1.5" fill="none"/><polygon points="635.8,439.5 644.083,439.309 641.542,441.838 641.595,445.422" fill="#bce08e"/><polygon points="766,492.5 757.717,492.691 760.258,490.162 760.205,486.578" fill="#bce08e"/><use href="#ant" x="438.5" y="126.2"/><circle cx="438.5" cy="126.2" r="14.2" fill="none" stroke="#7cc4f6" stroke-width="1.0" opacity="0.95"/><circle cx="438.5" cy="126.2" r="23.5" fill="none" stroke="#84c8f6" stroke-width="1.2" opacity="0.9"/><circle cx="438.5" cy="126.2" r="31.2" fill="none" stroke="#8cccf6" stroke-width="2.2" opacity="0.6"/><circle cx="438.5" cy="126.2" r="38.2" fill="none" stroke="#94d0f6" stroke-width="3.6" opacity="0.42"/><circle cx="438.5" cy="126.2" r="45" fill="none" stroke="#9cd4f6" stroke-width="5.5" opacity="0.28"/><use href="#ant" x="395.3" y="313.1"/><circle cx="395.3" cy="313.1" r="14.2" fill="none" stroke="#7cc4f6" stroke-width="1.0" opacity="0.95"/><circle cx="395.3" cy="313.1" r="23.5" fill="none" stroke="#84c8f6" stroke-width="1.2" opacity="0.9"/><circle cx="395.3" cy="313.1" r="31.2" fill="none" stroke="#8cccf6" stroke-width="2.2" opacity="0.6"/><circle cx="395.3" cy="313.1" r="38.2" fill="none" stroke="#94d0f6" stroke-width="3.6" opacity="0.42"/><circle cx="395.3" cy="313.1" r="45" fill="none" stroke="#9cd4f6" stroke-width="5.5" opacity="0.28"/><text x="387.6" y="227.7" font-family="'DejaVu Sans','Liberation Sans',sans-serif" font-size="11.5" fill="#ff5a14" textLength="97" lengthAdjust="spacing">Coverage area</text><text x="277.6" y="648.9" font-family="'DejaVu Sans','Liberation Sans',sans-serif" font-size="11.8" fill="#1a1a1a" textLength="45.6" lengthAdjust="spacing">Airport</text></svg></body></html>
